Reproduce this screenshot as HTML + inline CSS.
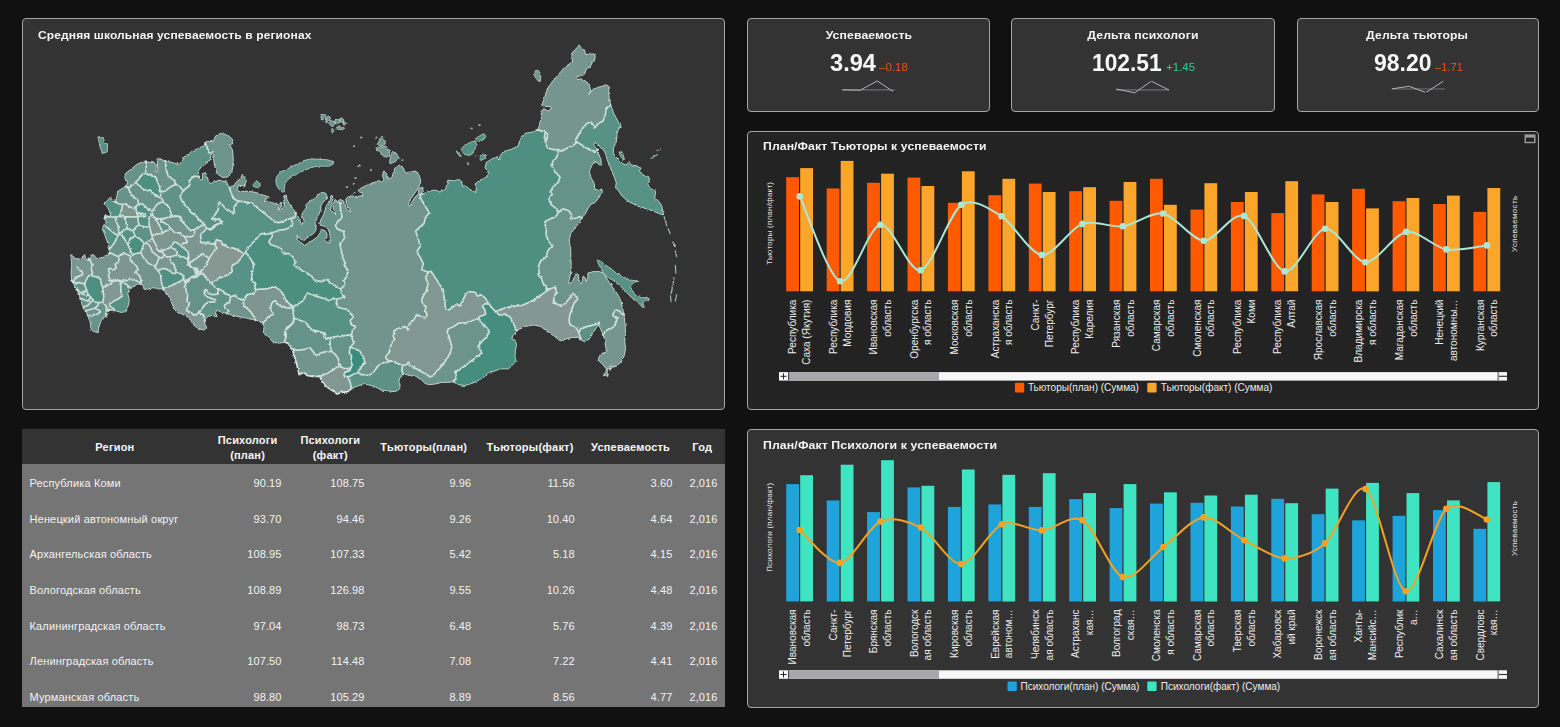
<!DOCTYPE html>
<html><head><meta charset="utf-8"><title>Dashboard</title>
<style>
html,body{margin:0;padding:0;font-family:"Liberation Sans", sans-serif;}
body{width:1560px;height:727px;background:#111111;overflow:hidden;position:relative;font-family:"Liberation Sans", sans-serif;color:#f2f2f2;}
.panel{position:absolute;box-sizing:border-box;border:1px solid #a6a6a6;border-radius:4px;background:#333333;}
.sx{display:inline-block;transform-origin:0 50%;}.sx.c{transform-origin:50% 50%;}
.ttl{position:absolute;font-weight:bold;font-size:11.3px;line-height:14px;white-space:nowrap;color:#f4f4f4;letter-spacing:0.1px;}
.kt{position:absolute;font-weight:bold;font-size:11px;line-height:14px;white-space:nowrap;color:#f4f4f4;text-align:center;letter-spacing:0.1px;}
.kv{position:absolute;font-weight:bold;font-size:23px;line-height:24px;white-space:nowrap;color:#f7f7f7;}
  .kd{position:absolute;font-size:10.8px;line-height:12px;white-space:nowrap;}
svg{position:absolute;left:0;top:0;}
svg text{font-family:"Liberation Sans", sans-serif;}
.xl{font-size:10.8px;fill:#ececec;}
.yt{font-size:8px;fill:#e6e6e6;}
.lg{font-size:10.8px;fill:#ececec;}
#tbl{position:absolute;left:22px;top:429px;width:702.5px;height:278.3px;background:#757575;}
#thd{position:absolute;left:22px;top:429px;width:702.5px;height:35.3px;background:#333333;}
.td{position:absolute;font-size:11px;line-height:16px;white-space:nowrap;color:#f3f3f3;letter-spacing:0.16px;}
.td.r{width:100px;text-align:right;letter-spacing:0.1px;}
.th{position:absolute;width:120px;text-align:center;font-weight:bold;font-size:11px;line-height:16px;white-space:nowrap;color:#f6f6f6;letter-spacing:0.2px;}
</style></head><body>
<div class="panel" style="left:22px;top:18px;width:703px;height:392px;"></div>
<div class="panel" style="left:747px;top:18px;width:242.5px;height:94px;"></div>
<div class="panel" style="left:1011px;top:18px;width:264px;height:94px;"></div>
<div class="panel" style="left:1296.7px;top:18px;width:242.5px;height:94px;"></div>
<div class="panel" style="left:747px;top:130.7px;width:792.2px;height:279.5px;background:#232323;"></div>
<div class="panel" style="left:747px;top:428.8px;width:792.2px;height:279.5px;"></div>
<div id="tbl"></div><div id="thd"></div>

<div class="ttl" style="left:37.5px;top:28.3px;"><span class="sx" id="t_map" style="transform:scaleX(1.0649)">Средняя школьная успеваемость в регионах</span></div>
<div class="ttl" style="left:763px;top:139.3px;"><span class="sx" id="t_c1" style="transform:scaleX(1.0799)">План/Факт Тьюторы к успеваемости</span></div>
<div class="ttl" style="left:763px;top:438px;"><span class="sx" id="t_c2" style="transform:scaleX(1.0888)">План/Факт Психологи к успеваемости</span></div>

<div class="kt" style="left:768.5px;width:200px;top:28.1px;"><span class="sx c" id="k1t" style="transform:scaleX(1.1121)">Успеваемость</span></div>
<div class="kt" style="left:1043.1px;width:200px;top:28.1px;"><span class="sx c" id="k2t" style="transform:scaleX(1.1166)">Дельта психологи</span></div>
<div class="kt" style="left:1317.4px;width:200px;top:28.1px;"><span class="sx c" id="k3t" style="transform:scaleX(1.1064)">Дельта тьюторы</span></div>
<div class="kv" style="left:829.8px;top:50.7px;"><span class="sx" id="k1v" style="transform:scaleX(1.0276)">3.94</span></div>
<div class="kv" style="left:1091.8px;top:50.7px;"><span class="sx" id="k2v" style="transform:scaleX(0.9892)">102.51</span></div>
<div class="kv" style="left:1373.8px;top:50.7px;"><span class="sx" id="k3v" style="transform:scaleX(0.9989)">98.20</span></div>
<div class="kd" style="left:878.5px;top:60.6px;color:#e9531c;"><span class="sx" id="k1d" style="transform:scaleX(1.0654)">–0.18</span></div>
<div class="kd" style="left:1165.7px;top:60.6px;color:#2fcf93;"><span class="sx" id="k2d" style="transform:scaleX(1.0685)">+1.45</span></div>
<div class="kd" style="left:1434.7px;top:60.6px;color:#e9531c;"><span class="sx" id="k3d" style="transform:scaleX(1.0358)">–1.71</span></div>

<svg width="1560" height="727" viewBox="0 0 1560 727">
<!-- MAP -->
<defs><filter id="rough" x="60" y="40" width="640" height="370" filterUnits="userSpaceOnUse"><feTurbulence type="fractalNoise" baseFrequency="0.28" numOctaves="2" seed="7" result="n"/><feDisplacementMap in="SourceGraphic" in2="n" scale="2.6" xChannelSelector="R" yChannelSelector="G"/></filter></defs>
<g id="map" stroke-linejoin="round" stroke-linecap="round" filter="url(#rough)">
<path d="M109.3 247.4 L106.2 239.0 L102.4 228.2 L106.2 222.0 L104.7 218.2 L110.8 215.9 L109.3 209.7 L103.9 204.3 L110.1 197.4 L113.1 201.2 L116.2 199.7 L117.8 191.2 L125.5 186.6 L127.8 182.0 L124.7 178.1 L125.5 173.5 L132.4 168.1 L137.0 164.3 L144.0 161.2 L150.9 162.7 L154.0 161.9 L156.3 166.6 L155.8 172.0 L158.0 171.2 L157.0 158.1 L166.3 161.2 L179.4 164.3 L182.5 160.4 L184.0 156.6 L187.9 155.8 L190.9 151.9 L197.1 148.9 L204.0 145.8 L205.2 142.8 L207.1 141.3 L213.3 141.9 L215.2 136.3 L220.8 133.2 L227.7 135.0 L232.7 139.4 L232.5 143.8 L229.6 145.0 L232.7 150.1 L233.3 160.1 L232.1 171.3 L227.7 177.0 L222.7 177.6 L217.1 173.8 L214.6 166.3 L213.3 157.6 L212.4 151.3 L210.8 153.8 L210.2 160.1 L205.8 163.8 L200.2 168.2 L198.3 171.3 L199.4 179.7 L202.5 179.7 L202.5 173.5 L205.6 172.7 L207.1 176.6 L208.7 182.7 L211.7 183.5 L214.8 180.4 L221.7 180.4 L227.1 182.7 L228.7 186.6 L234.1 185.8 L235.6 182.7 L240.2 178.9 L242.5 174.3 L246.4 180.4 L244.9 185.8 L238.7 185.4 L237.2 189.7 L240.2 192.0 L244.2 191.0 L250.2 191.5 L256.2 192.5 L261.2 194.5 L266.3 196.0 L269.3 197.5 L265.3 199.5 L264.2 201.5 L268.3 201.0 L272.3 202.5 L276.3 204.1 L279.8 204.6 L280.3 201.5 L281.8 202.5 L281.3 207.1 L278.3 208.6 L277.8 210.1 L282.3 208.6 L284.3 206.1 L283.8 200.0 L284.3 195.5 L286.3 195.0 L286.8 199.0 L287.8 201.5 L290.3 205.1 L293.4 209.1 L295.9 213.1 L298.4 217.1 L300.4 221.1 L301.4 224.6 L304.4 222.1 L303.4 219.1 L301.4 216.1 L303.4 211.6 L306.4 207.6 L305.4 205.1 L308.9 202.0 L312.4 200.0 L315.4 197.5 L318.5 194.5 L321.5 192.5 L325.5 193.0 L327.0 196.0 L326.0 199.0 L323.0 202.5 L320.8 206.1 L321.0 209.6 L319.0 214.1 L316.9 218.1 L315.4 222.1 L315.2 225.6 L316.4 228.6 L315.2 231.7 L312.4 234.4 L309.4 236.4 L306.4 238.4 L303.9 240.7 L301.9 240.2 L298.9 237.7 L296.6 235.2 L298.4 240.2 L301.4 243.2 L304.6 245.4 L307.4 243.7 L310.4 241.7 L314.4 239.2 L317.7 236.7 L320.3 232.2 L320.5 229.7 L323.7 230.0 L326.0 231.4 L327.1 234.7 L326.7 238.0 L325.0 239.2 L327.3 242.4 L329.7 243.0 L330.1 238.2 L329.7 233.0 L327.7 228.6 L324.5 226.3 L320.5 225.3 L319.7 223.1 L321.2 219.1 L323.2 215.1 L325.2 210.1 L325.7 206.6 L328.0 203.1 L330.5 200.0 L331.0 196.0 L331.7 195.0 L333.0 197.5 L332.5 201.0 L331.5 205.1 L330.5 210.1 L332.5 211.6 L335.0 213.1 L336.0 215.1 L335.5 211.6 L333.5 209.6 L333.0 206.1 L334.0 202.0 L335.0 199.5 L338.0 202.0 L340.0 203.6 L338.5 200.5 L340.5 199.5 L343.6 201.0 L345.1 204.1 L346.1 208.1 L348.6 211.1 L350.6 211.6 L349.6 209.1 L347.6 206.6 L346.6 203.1 L345.6 199.5 L347.6 197.0 L351.6 196.0 L356.0 196.5 L359.2 196.1 L362.8 195.6 L362.3 193.0 L359.2 192.0 L358.2 190.4 L361.3 187.9 L365.4 185.8 L369.5 184.2 L374.7 182.2 L378.8 180.6 L381.9 182.2 L383.9 180.1 L382.4 175.5 L383.9 170.8 L386.5 173.4 L387.0 177.5 L390.1 178.6 L392.2 176.5 L393.7 171.3 L396.3 166.2 L399.4 165.2 L402.5 166.7 L404.6 171.3 L406.6 172.9 L415.6 170.9 L419.4 175.5 L420.9 181.6 L418.6 187.8 L414.8 193.2 L410.9 198.6 L407.9 205.5 L409.4 206.3 L414.0 198.6 L417.9 194.0 L419.4 188.6 L422.5 187.0 L423.3 190.9 L420.2 194.7 L424.8 194.0 L428.7 190.9 L435.6 190.1 L439.4 191.7 L445.6 189.3 L447.1 183.2 L447.9 180.1 L454.1 180.9 L458.7 179.3 L461.8 181.6 L462.5 186.3 L465.6 185.5 L469.5 189.3 L475.6 192.4 L476.4 187.8 L474.9 184.0 L480.3 180.1 L486.4 177.0 L488.7 172.4 L484.9 167.8 L486.4 162.4 L492.6 158.5 L497.2 157.0 L498.7 160.1 L500.3 155.5 L503.4 151.6 L511.1 149.3 L518.0 146.2 L520.0 139.3 L520.8 137.1 L525.4 133.2 L530.8 132.4 L537.8 130.1 L539.3 125.5 L541.6 116.3 L540.8 111.6 L543.9 108.6 L547.8 110.9 L551.2 108.9 L550.1 106.3 L544.7 106.7 L541.6 105.2 L544.7 97.8 L547.0 89.3 L552.4 81.6 L560.1 72.4 L566.3 66.2 L570.9 62.7 L572.4 61.6 L571.7 53.1 L575.5 49.3 L579.4 45.1 L581.7 48.5 L584.7 50.0 L585.5 54.6 L590.1 53.9 L594.8 53.9 L595.2 58.5 L592.5 62.3 L590.1 67.0 L586.3 69.3 L584.7 73.9 L581.7 76.2 L577.0 76.2 L577.0 79.3 L581.7 79.0 L586.3 81.6 L589.4 85.5 L590.9 90.8 L588.6 94.7 L590.9 91.6 L594.0 88.5 L601.7 86.2 L606.3 84.7 L609.4 87.0 L608.6 91.6 L609.4 99.3 L610.9 105.5 L614.0 114.0 L617.9 120.9 L621.7 127.0 L618.6 128.6 L617.1 134.7 L616.3 142.0 L613.7 147.3 L613.2 152.7 L615.6 156.6 L618.6 159.6 L622.5 163.5 L626.3 165.0 L628.7 162.0 L631.7 165.0 L636.4 165.8 L641.0 168.1 L639.4 171.2 L643.3 175.1 L648.7 176.6 L649.4 181.2 L647.9 185.1 L651.0 188.9 L655.6 191.2 L654.8 198.2 L658.7 201.2 L661.8 205.9 L663.6 215.1 L661.0 214.3 L649.4 209.7 L637.1 205.9 L627.9 201.2 L621.7 195.8 L617.9 189.7 L615.6 188.1 L616.3 182.8 L614.0 176.6 L610.2 167.3 L607.1 159.6 L605.5 153.5 L603.2 149.6 L600.2 147.3 L597.1 143.5 L594.8 142.7 L594.0 145.8 L597.8 149.6 L598.6 153.5 L600.9 159.6 L601.7 165.0 L599.4 165.0 L597.1 162.7 L594.0 162.0 L591.7 165.8 L589.4 171.2 L590.9 177.4 L594.0 182.8 L594.8 188.9 L598.6 190.5 L601.7 188.9 L602.5 192.0 L598.6 198.2 L594.8 202.8 L590.9 204.3 L587.8 208.9 L585.5 213.6 L581.7 218.2 L578.6 223.6 L574.7 228.2 L570.9 233.6 L569.3 239.7 L570.1 247.0 L570.6 246.9 L570.9 255.4 L571.2 264.6 L570.9 272.3 L569.7 278.5 L568.6 283.1 L571.7 282.4 L574.0 277.7 L576.3 273.1 L578.6 274.7 L578.9 280.8 L580.9 283.9 L582.4 280.8 L582.9 276.2 L584.7 277.0 L586.3 281.6 L587.8 277.0 L587.8 273.1 L593.2 271.6 L599.4 271.6 L603.2 273.1 L606.3 277.7 L610.2 283.9 L614.0 289.3 L617.9 294.7 L620.9 300.8 L622.5 307.8 L624.0 315.0 L625.1 324.3 L625.6 333.5 L624.8 341.2 L625.6 348.9 L624.0 356.6 L620.9 362.0 L617.1 365.9 L612.5 367.4 L610.9 365.1 L610.2 370.5 L608.6 366.6 L607.1 372.0 L607.9 376.6 L605.5 375.1 L603.2 375.9 L605.5 372.8 L606.3 368.9 L603.2 365.1 L600.2 362.0 L597.8 360.5 L599.4 355.8 L601.7 353.5 L606.3 352.0 L605.5 345.8 L604.8 339.7 L602.5 333.5 L600.2 328.1 L598.6 325.0 L597.1 326.6 L593.2 332.7 L589.4 338.9 L584.7 342.0 L580.9 339.7 L577.8 337.4 L572.4 337.4 L566.3 338.9 L560.1 340.9 L553.9 335.8 L547.8 332.0 L540.8 326.6 L533.9 325.0 L524.7 326.6 L517.0 330.4 L513.1 335.1 L511.6 340.4 L514.7 339.7 L516.7 344.3 L515.4 350.5 L515.1 356.6 L516.2 361.2 L512.3 365.1 L508.5 368.9 L500.0 368.9 L493.9 371.3 L489.2 372.0 L484.6 376.6 L480.0 379.7 L472.6 383.2 L464.9 385.5 L458.7 384.7 L454.1 381.7 L447.9 382.4 L441.7 382.4 L435.6 384.0 L429.4 384.7 L424.8 383.2 L420.9 379.3 L415.6 376.3 L409.4 375.5 L403.2 374.0 L400.9 376.3 L398.6 380.9 L400.2 386.3 L398.6 390.1 L394.8 391.7 L387.8 390.9 L381.7 390.1 L378.6 388.6 L374.0 386.3 L367.8 384.7 L363.2 384.0 L357.0 386.3 L351.6 388.6 L347.8 391.7 L341.6 392.4 L337.0 394.0 L333.1 390.9 L329.3 388.6 L326.2 386.3 L322.4 382.4 L320.8 378.6 L317.0 376.3 L312.3 376.3 L307.0 375.5 L303.9 372.4 L299.3 374.7 L297.7 368.6 L296.2 362.4 L293.9 354.7 L290.8 347.0 L287.7 343.1 L284.6 342.1 L280.0 343.1 L277.2 343.2 L272.6 341.7 L268.0 337.0 L263.3 333.2 L264.1 326.3 L261.8 322.4 L255.6 320.1 L247.9 318.6 L240.2 317.0 L232.5 315.5 L226.4 313.2 L221.7 312.4 L217.1 310.1 L215.6 312.4 L217.1 317.0 L212.5 315.5 L207.9 316.3 L204.8 320.1 L204.8 324.0 L207.1 327.8 L204.0 330.1 L198.6 328.6 L194.0 325.5 L190.9 320.9 L187.9 317.0 L181.7 313.9 L177.1 312.4 L174.0 308.5 L171.7 303.2 L170.1 297.8 L166.3 293.1 L163.2 289.3 L158.6 288.5 L152.4 287.8 L147.8 289.3 L144.0 289.3 L142.4 284.7 L137.8 283.9 L133.9 286.2 L129.3 288.5 L127.8 293.9 L129.3 299.3 L128.5 304.7 L126.2 311.6 L121.6 312.4 L117.8 311.6 L113.9 310.1 L107.8 310.9 L105.4 313.2 L107.0 317.0 L103.1 317.0 L100.8 321.6 L98.5 327.8 L98.2 332.4 L93.1 331.7 L90.8 327.8 L90.0 321.6 L87.7 315.5 L85.4 310.1 L82.3 305.5 L80.8 300.1 L78.5 293.1 L75.4 287.0 L71.6 280.8 L71.1 273.1 L71.6 264.6 L70.8 254.6 L75.4 258.5 L80.8 259.3 L84.6 254.6 L86.2 260.0 L90.8 259.3 L90.0 255.4 L93.1 254.6 L97.0 258.5 L104.7 256.9 L108.5 254.6 L109.3 247.7Z" fill="#6d9087" stroke="none"/>
<path d="M98.2 136.9 L103.8 137.8 L104.4 143.2 L107.6 143.8 L107.3 151.9 L102.6 153.6 L100.1 147.5Z" fill="#599185" stroke="#dcebe6" stroke-width="0.8" stroke-opacity="0.8"/>
<path d="M282.3 192.0 L279.2 189.4 L276.7 185.8 L275.6 180.6 L277.2 175.5 L279.8 172.4 L284.9 169.8 L290.1 167.7 L293.2 165.7 L298.3 163.6 L303.5 161.5 L303.1 160.8 L310.8 158.8 L320.1 159.3 L327.8 159.8 L333.1 161.6 L333.6 163.9 L329.3 166.2 L321.0 166.2 L314.8 166.7 L309.7 168.3 L304.5 170.3 L299.4 172.9 L294.2 175.5 L290.1 178.1 L286.5 181.1 L284.9 184.8 L284.4 188.9 L283.9 191.5Z" fill="#619288" stroke="#dcebe6" stroke-width="0.8" stroke-opacity="0.8"/>
<path d="M253.3 183.5 L256.4 181.2 L259.9 182.7 L260.3 185.8 L257.2 187.7 L253.8 186.6Z" fill="#619288" stroke="#dcebe6" stroke-width="0.8" stroke-opacity="0.8"/>
<path d="M325.6 117.4 L324.2 119.0 L321.7 118.9 L320.8 116.9 L320.7 114.6 L323.2 114.6 L325.7 115.1Z" fill="#619288" stroke="#dcebe6" stroke-width="0.8" stroke-opacity="0.8"/>
<path d="M330.3 118.7 L329.5 120.6 L327.8 120.3 L326.1 119.4 L327.0 117.5 L328.1 115.9 L329.7 116.9Z" fill="#619288" stroke="#dcebe6" stroke-width="0.8" stroke-opacity="0.8"/>
<path d="M334.3 124.6 L332.8 126.7 L330.4 125.2 L328.8 123.1 L330.2 121.1 L332.7 120.9 L335.2 122.3Z" fill="#619288" stroke="#dcebe6" stroke-width="0.8" stroke-opacity="0.8"/>
<path d="M341.2 120.8 L339.4 122.7 L337.0 124.1 L334.5 123.2 L334.4 121.2 L335.9 119.2 L338.7 119.8Z" fill="#619288" stroke="#dcebe6" stroke-width="0.8" stroke-opacity="0.8"/>
<path d="M343.9 120.3 L343.3 122.3 L341.5 122.2 L339.8 121.5 L340.4 119.5 L341.4 117.8 L343.1 118.6Z" fill="#71948c" stroke="#dcebe6" stroke-width="0.8" stroke-opacity="0.8"/>
<path d="M344.4 128.5 L342.4 129.8 L339.1 129.7 L335.9 128.6 L337.2 127.0 L339.3 125.6 L342.3 126.9Z" fill="#71948c" stroke="#dcebe6" stroke-width="0.8" stroke-opacity="0.8"/>
<path d="M333.9 130.5 L333.2 131.9 L332.1 132.2 L331.0 131.4 L331.3 129.8 L332.0 128.4 L333.1 129.3Z" fill="#619288" stroke="#dcebe6" stroke-width="0.8" stroke-opacity="0.8"/>
<path d="M345.8 123.4 L345.0 124.5 L343.9 125.4 L343.2 124.0 L342.9 122.6 L343.9 121.8 L345.0 122.2Z" fill="#71948c" stroke="#dcebe6" stroke-width="0.8" stroke-opacity="0.8"/>
<path d="M327.2 121.9 L327.1 123.0 L326.0 122.9 L325.1 122.4 L325.1 121.3 L326.0 120.8 L327.1 120.8Z" fill="#619288" stroke="#dcebe6" stroke-width="0.8" stroke-opacity="0.8"/>
<path d="M382.4 136.2 L385.5 141.6 L384.7 144.7 L380.9 146.2 L377.8 144.7 L379.4 140.1Z" fill="#71948c" stroke="#dcebe6" stroke-width="0.8" stroke-opacity="0.8"/>
<path d="M380.9 147.0 L386.3 146.2 L389.4 150.1 L389.7 155.5 L386.3 157.3 L381.7 155.5 L380.1 151.6 L376.3 150.8 L376.7 147.8Z" fill="#71948c" stroke="#dcebe6" stroke-width="0.8" stroke-opacity="0.8"/>
<path d="M392.5 151.6 L396.3 153.1 L399.4 158.5 L397.1 160.8 L390.1 163.9 L389.4 161.6 L390.9 155.5Z" fill="#71948c" stroke="#dcebe6" stroke-width="0.8" stroke-opacity="0.8"/>
<path d="M461.8 147.8 L467.2 143.9 L470.2 142.4 L474.9 140.8 L476.9 144.7 L474.9 149.3 L472.6 152.4 L470.2 155.5 L464.9 154.7 L462.5 151.6Z" fill="#519082" stroke="#dcebe6" stroke-width="0.8" stroke-opacity="0.8"/>
<path d="M475.6 138.5 L480.3 135.4 L484.1 133.6 L486.1 136.2 L484.1 139.3 L479.5 141.3Z" fill="#519082" stroke="#dcebe6" stroke-width="0.8" stroke-opacity="0.8"/>
<path d="M479.5 156.2 L483.3 153.9 L486.4 155.1 L484.9 158.5 L481.0 160.4Z" fill="#519082" stroke="#dcebe6" stroke-width="0.8" stroke-opacity="0.8"/>
<path d="M456.4 150.8 L461.0 155.5 L460.2 156.7 L457.2 153.1Z" fill="#519082" stroke="#dcebe6" stroke-width="0.8" stroke-opacity="0.8"/>
<path d="M535.5 70.8 L537.8 70.1 L540.1 72.4 L540.8 77.0 L540.4 81.6 L537.8 80.8 L534.7 76.2Z" fill="#75958e" stroke="#dcebe6" stroke-width="0.8" stroke-opacity="0.8"/>
<path d="M619.4 151.9 L622.5 152.7 L624.5 159.3 L622.5 159.6 L620.2 155.8Z" fill="#599185" stroke="#dcebe6" stroke-width="0.8" stroke-opacity="0.8"/>
<path d="M597.8 260.0 L601.7 261.6 L604.8 264.6 L610.9 268.5 L616.3 273.1 L623.3 277.0 L631.0 280.1 L638.7 281.3 L634.0 282.4 L630.2 286.2 L632.5 290.8 L635.6 295.5 L641.7 297.8 L647.1 297.3 L649.4 299.3 L644.8 300.8 L642.5 303.2 L644.8 307.8 L642.1 307.2 L638.4 302.8 L634.4 299.2 L629.4 295.5 L624.5 290.2 L619.1 285.0 L613.1 280.4 L607.1 277.0 L602.5 272.0 L600.2 267.0 L598.0 263.1Z" fill="#599185" stroke="#dcebe6" stroke-width="0.8" stroke-opacity="0.8"/>
<path d="M420.4 194.7 L420.2 194.7 L420.3 194.6 L419.9 194.3 L421.7 200.4 L425.6 206.6 L429.4 212.7 L425.6 217.3 L424.0 223.5 L419.4 227.4 L415.6 231.2 L417.9 237.4 L420.2 246.6 L417.1 251.2 L420.2 257.4 L423.3 263.6 L421.7 269.7 L427.9 272.0 L431.0 271.3 L434.0 275.9 L437.1 280.5 L441.0 286.7 L442.4 290.3 L443.3 290.0 L443.9 296.2 L444.1 297.0 L444.0 297.0 L444.1 297.7 L445.6 308.5 L448.7 310.0 L454.1 306.2 L457.2 303.9 L459.5 306.2 L462.5 300.8 L465.6 294.6 L468.7 291.5 L475.6 292.3 L477.2 296.2 L481.8 294.6 L485.6 298.5 L488.0 303.1 L488.7 303.6 L492.6 308.5 L495.7 311.6 L503.1 308.5 L513.1 306.2 L521.6 305.5 L530.8 301.6 L538.5 297.0 L544.7 292.4 L550.9 288.5 L546.2 290.1 L546.2 286.2 L543.2 283.9 L541.6 278.5 L537.8 274.7 L539.3 273.1 L538.5 266.2 L540.8 260.8 L546.2 256.9 L547.8 250.8 L551.6 246.3 L551.4 246.1 L551.7 245.9 L548.5 241.3 L546.2 235.1 L546.2 229.0 L544.7 222.0 L550.1 219.0 L556.3 215.9 L558.6 212.0 L555.5 208.2 L550.9 204.3 L548.5 198.2 L552.4 194.3 L550.1 192.0 L553.2 186.6 L557.8 182.8 L560.1 177.4 L555.5 172.0 L552.4 167.3 L552.4 162.0 L557.0 156.6 L558.6 150.4 L558.8 150.0 L557.8 149.6 L553.2 149.6 L547.8 148.1 L545.5 143.5 L545.4 142.1 L544.7 135.0 L546.3 133.3 L544.7 131.7 L537.8 130.1 L530.8 132.4 L525.4 133.2 L520.8 137.1 L520.0 139.3 L518.0 146.2 L511.1 149.3 L503.4 151.6 L500.3 155.5 L498.7 160.1 L497.2 157.0 L492.6 158.5 L486.4 162.4 L484.9 167.8 L488.7 172.4 L486.4 177.0 L480.3 180.1 L474.9 184.0 L476.4 187.8 L475.6 192.4 L469.5 189.3 L465.6 185.5 L462.5 186.3 L461.8 181.6 L458.7 179.3 L454.1 180.9 L447.9 180.1 L447.1 183.2 L445.6 189.3 L439.4 191.7 L435.6 190.1 L428.7 190.9 L424.8 194.0Z" fill="#4f8f82" fill-rule="evenodd" stroke="none"/><!-- 440,230 a=16870 -->
<path d="M339.9 203.4 L340.0 203.6 L339.9 203.5 L339.7 203.7 L340.5 207.1 L340.5 210.6 L341.5 214.1 L342.0 217.1 L339.5 220.1 L336.5 223.1 L335.5 225.6 L337.0 228.6 L340.5 230.2 L343.6 231.2 L344.1 235.2 L344.6 238.2 L342.0 241.2 L340.0 243.2 L340.5 247.2 L341.5 251.2 L342.0 255.3 L343.6 259.3 L345.1 263.0 L343.9 265.1 L347.8 269.7 L347.0 275.9 L343.9 280.5 L344.7 285.1 L340.2 289.6 L340.8 290.5 L340.5 290.6 L341.6 292.8 L343.7 296.7 L341.6 297.7 L337.0 299.2 L336.2 303.9 L337.8 306.9 L341.6 308.5 L347.0 309.3 L350.1 313.1 L353.9 316.2 L350.1 320.8 L351.6 324.7 L355.5 327.0 L352.4 330.8 L351.6 334.7 L352.4 339.3 L353.9 343.1 L350.1 347.0 L355.5 349.3 L360.1 351.6 L364.0 357.8 L364.7 362.4 L361.6 366.3 L357.8 372.4 L361.6 374.7 L369.3 375.5 L374.0 371.6 L378.6 365.5 L380.9 363.2 L387.8 362.1 L390.9 360.9 L387.8 360.1 L385.5 357.8 L386.3 355.5 L389.4 352.4 L390.1 348.5 L391.7 343.1 L394.8 339.3 L393.2 336.2 L394.0 331.6 L397.1 328.5 L401.7 327.7 L404.8 326.2 L408.6 330.4 L407.9 327.0 L410.2 323.1 L414.0 319.3 L416.3 314.6 L420.2 316.2 L425.6 318.5 L427.1 313.9 L424.8 310.8 L426.3 306.9 L422.5 303.9 L421.7 299.2 L422.5 297.0 L423.3 294.6 L425.7 292.2 L426.3 291.3 L426.6 289.7 L427.9 283.6 L425.6 277.4 L427.9 272.0 L421.7 269.7 L423.3 263.6 L420.2 257.4 L417.1 251.2 L420.2 246.6 L417.9 237.4 L415.6 231.2 L419.4 227.4 L424.0 223.5 L425.6 217.3 L429.4 212.7 L425.6 206.6 L421.7 200.4 L419.9 194.3 L420.3 194.6 L423.3 190.9 L422.5 187.0 L419.4 188.6 L417.9 194.0 L414.0 198.6 L409.4 206.3 L407.9 205.5 L410.9 198.6 L414.8 193.2 L418.6 187.8 L420.9 181.6 L419.4 175.5 L415.6 170.9 L406.6 172.9 L404.6 171.3 L402.5 166.7 L399.4 165.2 L396.3 166.2 L393.7 171.3 L392.2 176.5 L390.1 178.6 L387.0 177.5 L386.5 173.4 L383.9 170.8 L382.4 175.5 L383.9 180.1 L381.9 182.2 L378.8 180.6 L374.7 182.2 L369.5 184.2 L365.4 185.8 L361.3 187.9 L358.2 190.4 L359.2 192.0 L362.3 193.0 L362.8 195.6 L359.2 196.1 L356.0 196.5 L351.6 196.0 L347.6 197.0 L345.6 199.5 L346.6 203.1 L347.6 206.6 L349.6 209.1 L350.6 211.6 L348.6 211.1 L346.1 208.1 L345.1 204.1 L343.6 201.0 L340.5 199.5 L338.5 200.5Z M343.9 297.0 L343.7 296.7 L344.7 296.2Z" fill="#71948c" fill-rule="evenodd" stroke="none"/><!-- 385,260 a=12905 -->
<path d="M477.9 318.5 L480.3 316.2 L485.6 314.6 L484.9 310.0 L482.6 306.2 L484.9 303.9 L488.7 303.6 L488.0 303.1 L485.6 298.5 L481.8 294.6 L477.2 296.2 L475.6 292.3 L468.7 291.5 L465.6 294.6 L462.5 300.8 L459.5 306.2 L457.2 303.9 L454.1 306.2 L448.7 310.0 L445.6 308.5 L444.1 297.7 L444.0 297.0 L443.9 296.2 L443.3 292.8 L442.4 290.3 L441.0 286.7 L437.1 280.5 L434.0 275.9 L431.0 271.3 L427.9 272.0 L425.6 277.4 L427.9 283.6 L426.6 289.7 L427.9 290.0 L425.7 292.2 L422.5 297.0 L422.5 297.0 L421.7 299.2 L422.5 303.9 L426.3 306.9 L424.8 310.8 L427.1 313.9 L425.6 318.5 L420.2 316.2 L416.3 314.6 L414.0 319.3 L410.2 323.1 L407.9 327.0 L408.6 330.4 L404.8 326.2 L401.7 327.7 L397.1 328.5 L394.0 331.6 L393.2 336.2 L394.8 339.3 L391.7 343.1 L390.1 348.5 L389.4 352.4 L386.3 355.5 L385.5 357.8 L387.8 360.1 L390.9 360.9 L397.1 363.2 L402.5 365.5 L406.3 364.7 L408.6 363.2 L410.9 365.5 L415.6 368.6 L420.2 370.9 L425.6 374.0 L430.2 377.0 L433.3 375.5 L435.6 372.4 L439.4 368.6 L443.3 363.9 L447.1 358.5 L450.2 353.2 L451.8 347.0 L450.2 340.8 L448.7 335.4 L447.1 331.6 L449.4 328.5 L454.1 326.2 L458.7 323.1 L464.9 323.1 L471.0 321.6 L475.6 319.3Z" fill="#819792" fill-rule="evenodd" stroke="none"/><!-- 420,330 a=4324 -->
<path d="M403.2 374.0 L409.4 375.5 L415.6 376.3 L420.9 379.3 L424.8 383.2 L429.4 384.7 L435.6 384.0 L441.7 382.4 L447.9 382.4 L454.1 381.7 L456.4 376.3 L454.8 371.6 L458.7 370.1 L463.3 367.0 L469.5 362.4 L475.6 357.8 L481.8 353.2 L480.3 349.3 L477.9 347.0 L481.0 342.4 L485.6 337.8 L489.5 332.4 L486.4 327.0 L481.8 323.1 L477.9 318.5 L475.6 319.3 L471.0 321.6 L464.9 323.1 L458.7 323.1 L454.1 326.2 L449.4 328.5 L447.1 331.6 L448.7 335.4 L450.2 340.8 L451.8 347.0 L450.2 353.2 L447.1 358.5 L443.3 363.9 L439.4 368.6 L435.6 372.4 L433.3 375.5 L430.2 377.0 L425.6 374.0 L420.2 370.9 L415.6 368.6 L410.9 365.5 L408.6 363.2 L406.3 364.7 L402.5 365.5 L401.7 370.1Z" fill="#6d948b" fill-rule="evenodd" stroke="none"/><!-- 470,345 a=2017 -->
<path d="M454.1 381.7 L458.7 384.7 L464.9 385.5 L472.6 383.2 L480.0 379.7 L484.6 376.6 L489.2 372.0 L493.9 371.3 L500.0 368.9 L508.5 368.9 L512.3 365.1 L516.2 361.2 L515.1 356.6 L515.4 350.5 L516.7 344.3 L514.7 339.7 L511.6 340.4 L513.1 335.1 L517.0 330.4 L516.2 329.3 L513.1 323.2 L510.0 317.0 L504.6 313.9 L500.0 315.5 L495.7 311.6 L492.6 308.5 L488.7 303.6 L484.9 303.9 L482.6 306.2 L484.9 310.0 L485.6 314.6 L480.3 316.2 L477.9 318.5 L481.8 323.1 L486.4 327.0 L489.5 332.4 L485.6 337.8 L481.0 342.4 L477.9 347.0 L480.3 349.3 L481.8 353.2 L475.6 357.8 L469.5 362.4 L463.3 367.0 L458.7 370.1 L454.8 371.6 L456.4 376.3Z" fill="#458e7f" fill-rule="evenodd" stroke="none"/><!-- 500,355 a=2404 -->
<path d="M517.0 330.4 L524.7 326.6 L533.9 325.0 L540.8 326.6 L547.8 332.0 L553.9 335.8 L560.1 340.9 L566.3 338.9 L572.4 337.4 L577.8 337.4 L580.4 339.3 L580.9 338.6 L578.6 332.4 L575.5 327.0 L570.1 324.7 L569.0 320.1 L570.1 313.9 L572.4 307.8 L574.0 303.2 L577.8 299.3 L576.3 295.5 L572.4 293.9 L569.3 298.5 L565.5 303.2 L560.9 306.2 L557.0 303.9 L553.2 303.2 L553.9 298.5 L556.3 292.4 L555.5 287.0 L550.9 288.5 L544.7 292.4 L538.5 297.0 L530.8 301.6 L521.6 305.5 L513.1 306.2 L503.1 308.5 L495.7 311.6 L500.0 315.5 L504.6 313.9 L510.0 317.0 L513.1 323.2 L516.2 329.3Z" fill="#859793" fill-rule="evenodd" stroke="none"/><!-- 540,320 a=2082 -->
<path d="M623.8 314.0 L622.5 307.8 L620.9 300.8 L617.9 294.7 L614.0 289.3 L610.2 283.9 L606.3 277.7 L603.2 273.1 L599.4 271.6 L593.2 271.6 L587.8 273.1 L587.8 277.0 L586.3 281.6 L584.7 277.0 L582.9 276.2 L582.4 280.8 L580.9 283.9 L578.9 280.8 L578.6 274.7 L576.3 273.1 L574.0 277.7 L571.7 282.4 L568.6 283.1 L569.7 278.5 L570.9 272.3 L571.2 264.6 L570.9 255.4 L570.6 246.9 L570.1 247.0 L569.3 239.7 L570.9 233.6 L574.7 228.2 L578.6 223.6 L581.7 218.2 L580.1 216.6 L575.5 218.2 L570.9 219.0 L571.7 215.1 L568.6 210.5 L563.2 208.9 L558.6 212.0 L556.3 215.9 L550.1 219.0 L544.7 222.0 L546.2 229.0 L546.2 235.1 L548.5 241.3 L551.7 245.9 L552.4 245.4 L551.8 246.1 L552.4 247.0 L551.6 246.3 L547.8 250.8 L546.2 256.9 L540.8 260.8 L538.5 266.2 L539.3 273.1 L537.8 274.7 L541.6 278.5 L543.2 283.9 L546.2 286.2 L546.2 290.1 L550.9 288.5 L555.5 287.0 L556.3 292.4 L553.9 298.5 L553.2 303.2 L557.0 303.9 L560.9 306.2 L565.5 303.2 L569.3 298.5 L572.4 293.9 L576.3 295.5 L577.8 299.3 L574.0 303.2 L572.4 307.8 L570.1 313.9 L569.0 320.1 L570.1 324.7 L575.5 327.0 L578.6 332.4 L581.7 328.6 L587.8 326.3 L594.8 324.7 L599.4 322.4 L598.7 325.2 L598.8 325.4 L600.2 328.1 L602.5 333.5 L602.9 334.7 L604.0 334.3 L606.3 330.4 L610.2 328.9 L614.0 326.6 L616.3 322.0 L617.1 317.3 L614.0 316.6 L612.8 314.3 L615.6 310.1 L618.6 310.4 L622.5 314.3Z" fill="#6d948b" fill-rule="evenodd" stroke="none"/><!-- 570,295 a=4556 -->
<path d="M602.9 334.7 L604.8 339.7 L605.5 345.8 L606.3 352.0 L601.7 353.5 L599.4 355.8 L597.8 360.5 L600.2 362.0 L603.2 365.1 L606.3 368.9 L605.5 372.8 L603.2 375.9 L605.5 375.1 L607.9 376.6 L607.1 372.0 L608.6 366.6 L610.2 370.5 L610.9 365.1 L612.5 367.4 L617.1 365.9 L620.9 362.0 L624.0 356.6 L625.6 348.9 L624.8 341.2 L625.6 333.5 L625.1 324.3 L624.0 315.0 L623.8 314.0 L622.5 314.3 L618.6 310.4 L615.6 310.1 L612.8 314.3 L614.0 316.6 L617.1 317.3 L616.3 322.0 L614.0 326.6 L610.2 328.9 L606.3 330.4 L604.0 334.3Z" fill="#75958e" fill-rule="evenodd" stroke="none"/><!-- 615,345 a=966 -->
<path d="M580.4 339.3 L580.9 339.7 L584.7 342.0 L589.4 338.9 L593.2 332.7 L597.1 326.6 L598.6 325.0 L598.7 325.2 L599.4 322.4 L594.8 324.7 L587.8 326.3 L581.7 328.6 L578.6 332.4 L580.9 338.6Z" fill="#5d9186" fill-rule="evenodd" stroke="none"/><!-- 588,332 a=188 -->
<path d="M581.7 218.2 L585.5 213.6 L587.8 208.9 L590.9 204.3 L594.8 202.8 L598.6 198.2 L602.5 192.0 L601.7 188.9 L598.6 190.5 L594.8 188.9 L594.0 182.8 L590.9 177.4 L589.4 171.2 L591.7 165.8 L594.0 162.0 L597.1 162.7 L599.4 165.0 L601.7 165.0 L600.9 159.6 L598.6 153.5 L597.8 149.6 L594.8 151.2 L590.9 150.4 L586.3 148.1 L581.7 145.0 L577.0 141.9 L576.2 142.7 L574.0 145.0 L567.8 148.1 L561.6 151.2 L558.8 150.0 L558.6 150.4 L557.0 156.6 L552.4 162.0 L552.4 167.3 L555.5 172.0 L560.1 177.4 L557.8 182.8 L553.2 186.6 L550.1 192.0 L552.4 194.3 L548.5 198.2 L550.9 204.3 L555.5 208.2 L558.6 212.0 L563.2 208.9 L568.6 210.5 L571.7 215.1 L570.9 219.0 L575.5 218.2 L580.1 216.6Z" fill="#659389" fill-rule="evenodd" stroke="none"/><!-- 570,190 a=2656 -->
<path d="M610.9 105.5 L609.4 99.3 L608.6 91.6 L609.4 87.0 L606.3 84.7 L601.7 86.2 L594.0 88.5 L590.9 91.6 L588.6 94.7 L590.9 90.8 L589.4 85.5 L586.3 81.6 L581.7 79.0 L577.0 79.3 L577.0 76.2 L581.7 76.2 L584.7 73.9 L586.3 69.3 L590.1 67.0 L592.5 62.3 L595.2 58.5 L594.8 53.9 L590.1 53.9 L585.5 54.6 L584.7 50.0 L581.7 48.5 L579.4 45.1 L575.5 49.3 L571.7 53.1 L572.4 61.6 L570.9 62.7 L566.3 66.2 L560.1 72.4 L552.4 81.6 L547.0 89.3 L544.7 97.8 L541.6 105.2 L544.7 106.7 L550.1 106.3 L551.2 108.9 L547.8 110.9 L543.9 108.6 L540.8 111.6 L541.6 116.3 L539.3 125.5 L537.8 130.1 L544.7 131.7 L546.3 133.3 L547.8 134.7 L546.2 142.0 L545.4 142.1 L545.5 143.5 L547.8 148.1 L553.2 149.6 L557.8 149.6 L558.8 150.0 L561.6 151.2 L567.8 148.1 L574.0 145.0 L576.2 142.7 L575.5 142.0 L576.6 139.5 L576.3 138.1 L578.3 135.4 L578.5 135.0 L578.6 134.7 L582.4 128.6 L586.3 124.0 L590.9 121.7 L594.8 127.8 L598.6 123.2 L603.2 120.9 L605.5 114.0 L606.3 107.8Z" fill="#75958e" fill-rule="evenodd" stroke="none"/><!-- 575,95 a=4115 -->
<path d="M597.8 149.6 L594.0 145.8 L594.8 142.7 L597.1 143.5 L600.2 147.3 L603.2 149.6 L605.5 153.5 L607.1 159.6 L610.2 167.3 L614.0 176.6 L616.3 182.8 L615.6 188.1 L617.9 189.7 L621.7 195.8 L627.9 201.2 L637.1 205.9 L649.4 209.7 L661.0 214.3 L663.6 215.1 L661.8 205.9 L658.7 201.2 L654.8 198.2 L655.6 191.2 L651.0 188.9 L647.9 185.1 L649.4 181.2 L648.7 176.6 L643.3 175.1 L639.4 171.2 L641.0 168.1 L636.4 165.8 L631.7 165.0 L628.7 162.0 L626.3 165.0 L622.5 163.5 L618.6 159.6 L615.6 156.6 L613.2 152.7 L613.7 147.3 L616.3 142.0 L617.1 134.7 L618.6 128.6 L621.7 127.0 L617.9 120.9 L614.0 114.0 L610.9 105.5 L606.3 107.8 L605.5 114.0 L603.2 120.9 L598.6 123.2 L594.8 127.8 L590.9 121.7 L586.3 124.0 L582.4 128.6 L578.6 134.7 L578.5 135.0 L578.6 135.0 L578.3 135.4 L576.6 139.5 L577.0 141.9 L581.7 145.0 L586.3 148.1 L590.9 150.4 L594.8 151.2Z" fill="#599185" fill-rule="evenodd" stroke="none"/><!-- 610,150 a=2657 -->
<path d="M351.6 388.6 L357.0 386.3 L363.2 384.0 L367.8 384.7 L374.0 386.3 L378.6 388.6 L381.7 390.1 L387.8 390.9 L394.8 391.7 L398.6 390.1 L400.2 386.3 L398.6 380.9 L400.9 376.3 L403.2 374.0 L401.7 370.1 L402.5 365.5 L397.1 363.2 L390.9 360.9 L387.8 362.1 L380.9 363.2 L378.6 365.5 L374.0 371.6 L369.3 375.5 L361.6 374.7 L357.8 372.4 L353.9 374.0 L347.8 377.0 L350.1 382.4Z" fill="#5d9186" fill-rule="evenodd" stroke="none"/><!-- 376,382 a=985 -->
<path d="M357.8 372.4 L361.6 366.3 L364.7 362.4 L364.0 357.8 L360.1 351.6 L355.5 349.3 L350.1 347.0 L349.3 352.4 L351.6 356.2 L350.9 360.9 L352.4 365.5 L349.3 370.9 L344.7 372.4 L343.9 375.5 L347.8 377.0 L353.9 374.0Z" fill="#3b8c7c" fill-rule="evenodd" stroke="none"/><!-- 356,362 a=298 -->
<path d="M352.4 365.5 L350.9 360.9 L351.6 356.2 L349.3 352.4 L350.1 347.0 L353.9 343.1 L352.4 339.3 L351.6 334.7 L346.2 335.4 L338.5 336.2 L330.1 337.8 L330.1 345.5 L331.6 351.6 L334.7 353.9 L337.8 357.8 L339.3 362.4 L340.8 367.0 L344.7 368.6 L349.3 368.6Z" fill="#659389" fill-rule="evenodd" stroke="none"/><!-- 342,352 a=550 -->
<path d="M347.8 391.7 L351.6 388.6 L350.1 382.4 L347.8 377.0 L343.9 375.5 L344.7 372.4 L349.3 370.9 L349.3 368.6 L344.7 368.6 L340.8 367.0 L337.8 366.3 L333.9 369.3 L327.8 373.2 L321.6 375.5 L320.8 378.6 L322.4 382.4 L326.2 386.3 L329.3 388.6 L333.1 390.9 L337.0 394.0 L341.6 392.4Z" fill="#839792" fill-rule="evenodd" stroke="none"/><!-- 336,382 a=542 -->
<path d="M312.3 376.3 L317.0 376.3 L321.6 375.5 L327.8 373.2 L333.9 369.3 L337.8 366.3 L339.3 362.4 L337.8 357.8 L334.7 353.9 L331.6 351.6 L326.2 351.6 L320.1 353.2 L316.2 355.5 L313.1 351.6 L310.0 347.8 L304.6 349.3 L298.5 350.1 L293.1 350.1 L293.9 354.7 L296.2 362.4 L297.7 368.6 L299.3 374.7 L303.9 372.4 L307.0 375.5Z" fill="#71948c" fill-rule="evenodd" stroke="none"/><!-- 317,364 a=931 -->
<path d="M287.7 343.1 L290.8 347.0 L293.1 350.1 L298.5 350.1 L304.6 349.3 L310.0 347.8 L313.1 351.6 L316.2 355.5 L320.1 353.2 L326.2 351.6 L331.6 351.6 L330.1 345.5 L330.1 337.8 L326.2 339.3 L324.7 336.2 L323.9 333.1 L322.1 332.5 L320.5 332.3 L316.5 331.3 L311.5 330.3 L309.5 327.3 L309.4 327.1 L308.5 326.2 L306.3 323.5 L303.5 321.7 L299.1 319.9 L294.6 318.5 L293.4 322.2 L293.4 322.2 L293.4 322.2 L293.1 323.1 L289.2 327.0 L285.6 330.0 L285.4 330.2 L286.2 334.7 L285.8 336.6 L284.6 342.1Z" fill="#659389" fill-rule="evenodd" stroke="none"/><!-- 308,339 a=997 -->
<path d="M330.1 337.8 L338.5 336.2 L346.2 335.4 L351.6 334.7 L352.4 330.8 L355.5 327.0 L351.6 324.7 L350.1 320.8 L353.9 316.2 L350.1 313.1 L347.0 309.3 L341.6 308.5 L337.8 306.9 L336.2 303.9 L337.0 299.2 L333.1 298.5 L329.3 300.8 L326.2 299.2 L318.5 296.9 L312.3 294.6 L307.0 293.1 L303.1 300.8 L298.5 303.9 L293.9 306.2 L293.2 312.4 L293.4 314.2 L294.6 318.4 L298.5 319.7 L299.1 319.9 L299.3 320.0 L305.4 322.3 L306.3 323.5 L307.5 324.2 L309.4 327.1 L312.3 330.1 L317.0 330.8 L322.1 332.5 L324.6 332.8 L323.9 333.1 L324.7 336.2 L326.2 339.3Z" fill="#599185" fill-rule="evenodd" stroke="none"/><!-- 326,318 a=1723 -->
<path d="M262.4 323.4 L264.1 326.3 L263.3 333.2 L268.0 337.0 L272.6 341.7 L277.2 343.2 L280.0 343.1 L284.6 342.1 L285.8 336.6 L284.4 336.3 L284.4 335.0 L285.4 330.3 L285.4 330.2 L285.4 330.1 L285.6 330.0 L286.9 327.3 L290.4 325.2 L293.4 322.2 L293.4 322.2 L293.9 318.2 L293.4 314.2 L293.4 314.2 L293.1 313.1 L293.2 312.4 L292.9 310.2 L293.4 306.7 L290.4 308.2 L286.4 307.7 L282.4 306.7 L278.9 305.2 L276.9 303.2 L275.4 300.6 L272.9 301.7 L271.4 304.2 L270.8 307.7 L269.8 309.2 L272.4 311.2 L272.9 314.2 L270.3 315.7 L267.3 317.7 L265.3 320.2 L263.3 322.9Z" fill="#6d948b" fill-rule="evenodd" stroke="none"/><!-- 286,321 a=819 -->
<path d="M293.9 306.2 L298.5 303.9 L303.1 300.8 L307.0 293.1 L312.3 294.6 L318.5 296.9 L326.2 299.2 L329.3 300.8 L333.1 298.5 L337.0 299.2 L341.6 297.7 L343.7 296.7 L341.6 292.8 L340.5 290.6 L340.1 289.7 L340.2 289.6 L339.3 288.2 L336.0 286.1 L333.6 284.6 L329.6 282.1 L326.6 279.1 L322.5 281.6 L318.5 281.1 L314.5 280.1 L311.5 276.1 L307.5 273.5 L302.5 271.0 L298.5 267.5 L293.9 266.0 L294.9 263.0 L294.4 259.3 L292.4 256.3 L289.3 253.7 L285.3 253.7 L282.3 252.2 L281.8 249.2 L278.3 247.2 L274.3 245.7 L270.8 244.7 L268.8 241.7 L270.3 239.2 L272.3 236.2 L271.8 232.7 L268.3 233.7 L265.3 234.7 L262.7 233.2 L260.2 234.2 L258.2 236.7 L255.2 240.2 L252.2 243.2 L249.7 246.2 L247.2 250.2 L243.6 253.6 L246.6 253.1 L248.6 256.2 L251.6 260.2 L252.4 262.2 L252.8 262.0 L253.8 266.0 L253.0 268.5 L252.6 271.2 L251.8 275.9 L251.8 276.1 L251.6 277.4 L252.6 281.3 L256.0 284.3 L254.7 284.6 L255.3 287.1 L255.8 290.1 L259.3 289.1 L263.3 289.1 L267.3 288.6 L270.8 287.6 L273.9 286.6 L276.9 288.1 L279.9 290.1 L282.4 293.1 L284.4 297.1 L286.4 301.2 L289.4 303.7 L292.4 305.7 L293.4 306.7 L292.9 310.2 L293.2 312.4Z" fill="#4b8f80" fill-rule="evenodd" stroke="none"/><!-- 300,275 a=3032 -->
<path d="M339.9 203.5 L338.0 202.0 L335.0 199.5 L334.0 202.0 L333.0 206.1 L333.5 209.6 L335.5 211.6 L336.0 215.1 L335.0 213.1 L332.5 211.6 L330.5 210.1 L331.5 205.1 L332.5 201.0 L333.0 197.5 L331.7 195.0 L331.0 196.0 L330.5 200.0 L328.0 203.1 L325.7 206.6 L325.2 210.1 L323.2 215.1 L321.2 219.1 L319.7 223.1 L320.5 225.3 L324.5 226.3 L327.7 228.6 L329.7 233.0 L330.1 238.2 L329.7 243.0 L327.3 242.4 L325.0 239.2 L326.7 238.0 L327.1 234.7 L326.0 231.4 L323.7 230.0 L320.5 229.7 L320.3 232.2 L317.7 236.7 L314.4 239.2 L310.4 241.7 L307.4 243.7 L304.6 245.4 L301.4 243.2 L298.4 240.2 L296.6 235.2 L298.9 237.7 L301.9 240.2 L303.9 240.7 L306.4 238.4 L309.4 236.4 L312.4 234.4 L315.2 231.7 L316.4 228.6 L315.2 225.6 L315.4 222.1 L316.9 218.1 L319.0 214.1 L321.0 209.6 L320.8 206.1 L323.0 202.5 L326.0 199.0 L327.0 196.0 L325.5 193.0 L321.5 192.5 L318.5 194.5 L315.4 197.5 L312.4 200.0 L308.9 202.0 L305.4 205.1 L306.4 207.6 L303.4 211.6 L301.4 216.1 L303.4 219.1 L304.4 222.1 L301.4 224.6 L300.4 221.1 L298.4 217.1 L295.9 213.1 L295.8 212.9 L295.1 213.3 L294.9 217.1 L292.4 218.1 L290.8 220.1 L292.4 222.1 L292.9 224.6 L291.4 226.6 L288.3 228.1 L284.3 229.7 L279.3 230.2 L275.3 231.7 L271.8 232.7 L272.3 236.2 L270.3 239.2 L268.8 241.7 L270.8 244.7 L274.3 245.7 L278.3 247.2 L281.8 249.2 L282.3 252.2 L285.3 253.7 L289.3 253.7 L292.4 256.3 L294.4 259.3 L294.9 263.0 L293.9 266.0 L298.5 267.5 L302.5 271.0 L307.5 273.5 L311.5 276.1 L314.5 280.1 L318.5 281.1 L322.5 281.6 L326.6 279.1 L329.6 282.1 L333.6 284.6 L336.0 286.1 L339.3 288.2 L340.2 289.6 L344.7 285.1 L343.9 280.5 L347.0 275.9 L347.8 269.7 L343.9 265.1 L345.1 263.0 L343.6 259.3 L342.0 255.3 L341.5 251.2 L340.5 247.2 L340.0 243.2 L342.0 241.2 L344.6 238.2 L344.1 235.2 L343.6 231.2 L340.5 230.2 L337.0 228.6 L335.5 225.6 L336.5 223.1 L339.5 220.1 L342.0 217.1 L341.5 214.1 L340.5 210.6 L340.5 207.1 L339.7 203.7Z" fill="#67938a" fill-rule="evenodd" stroke="none"/><!-- 320,235 a=3785 -->
<path d="M206.4 228.1 L204.4 231.1 L201.4 233.6 L200.4 236.6 L201.4 239.6 L200.4 242.1 L204.4 242.6 L208.4 243.1 L212.4 244.1 L214.9 243.1 L216.4 239.6 L220.5 241.1 L223.5 245.1 L227.5 247.1 L233.5 248.1 L238.5 250.1 L243.6 253.6 L247.2 250.2 L249.7 246.2 L252.2 243.2 L255.2 240.2 L258.2 236.7 L260.2 234.2 L262.7 233.2 L265.3 234.7 L268.3 233.7 L271.8 232.7 L275.3 231.7 L279.3 230.2 L284.3 229.7 L288.3 228.1 L291.4 226.6 L292.9 224.6 L292.4 222.1 L290.8 220.1 L292.4 218.1 L288.3 219.1 L283.3 221.1 L279.3 222.6 L275.3 222.1 L270.3 218.1 L265.3 214.1 L260.2 210.1 L256.4 206.8 L256.0 207.2 L253.4 204.2 L252.3 203.2 L251.8 203.1 L249.2 203.1 L244.2 202.0 L241.2 201.5 L238.5 201.2 L235.5 204.7 L234.0 208.2 L234.5 212.7 L233.0 213.7 L229.5 210.7 L226.0 209.2 L223.5 206.2 L220.5 203.2 L218.5 202.2 L218.5 206.2 L218.0 210.2 L215.4 214.2 L215.3 214.4 L215.4 214.5 L214.3 215.3 L213.3 216.4 L212.4 219.0 L213.3 219.3 L215.4 219.3 L219.5 218.8 L220.0 220.2 L221.5 221.5 L220.9 222.3 L221.5 223.0 L219.9 223.3 L216.4 225.0 L213.4 228.1 L210.4 230.1Z" fill="#599185" fill-rule="evenodd" stroke="none"/><!-- 232,222 a=2357 -->
<path d="M295.8 212.9 L293.4 209.1 L290.3 205.1 L287.8 201.5 L286.8 199.0 L286.3 195.0 L284.3 195.5 L283.8 200.0 L284.3 206.1 L282.3 208.6 L277.8 210.1 L278.3 208.6 L281.3 207.1 L281.8 202.5 L280.3 201.5 L279.8 204.6 L276.3 204.1 L272.3 202.5 L268.3 201.0 L264.2 201.5 L265.3 199.5 L269.3 197.5 L266.3 196.0 L261.2 194.5 L256.2 192.5 L250.2 191.5 L244.2 191.0 L240.2 192.0 L237.2 189.7 L238.7 185.4 L244.9 185.8 L246.4 180.4 L242.5 174.3 L240.2 178.9 L235.6 182.7 L234.1 185.8 L229.4 186.5 L229.5 187.1 L230.0 189.2 L230.5 191.2 L232.5 196.2 L234.5 199.2 L236.6 200.3 L238.6 201.0 L238.7 201.0 L241.2 201.5 L243.6 201.7 L248.6 202.7 L251.8 203.1 L252.2 203.1 L252.3 203.2 L252.6 203.2 L253.4 204.2 L256.2 206.6 L256.4 206.8 L260.2 210.1 L265.3 214.1 L270.3 218.1 L275.3 222.1 L279.3 222.6 L283.3 221.1 L288.3 219.1 L292.4 218.1 L294.9 217.1 L295.1 213.3Z" fill="#71948c" fill-rule="evenodd" stroke="none"/><!-- 262,202 a=999 -->
<path d="M199.1 177.1 L199.0 177.0 L197.9 176.6 L194.4 176.1 L191.9 178.1 L189.3 180.6 L189.8 184.6 L187.3 187.6 L183.3 190.7 L180.8 194.2 L180.3 197.2 L181.8 200.7 L185.3 205.7 L188.3 208.2 L190.8 212.2 L194.4 214.7 L194.6 214.9 L194.9 214.5 L197.0 217.0 L197.4 217.3 L200.4 220.3 L202.4 223.0 L202.2 223.2 L202.4 223.5 L204.4 224.5 L206.4 228.1 L208.5 228.6 L211.5 228.6 L214.1 225.6 L218.1 223.6 L219.9 223.3 L220.5 223.0 L220.9 222.3 L220.5 221.8 L220.0 220.2 L218.5 219.0 L215.4 220.0 L213.3 219.3 L211.9 219.3 L212.4 217.3 L213.3 216.4 L213.4 216.0 L214.3 215.3 L215.3 214.4 L215.4 214.2 L218.0 210.2 L218.5 206.2 L218.5 202.2 L220.5 203.2 L223.5 206.2 L226.0 209.2 L229.5 210.7 L233.0 213.7 L234.5 212.7 L234.0 208.2 L235.5 204.7 L238.5 201.2 L236.6 200.3 L234.6 199.5 L232.6 197.0 L231.1 193.0 L229.8 189.2 L230.0 189.2 L229.5 187.1 L229.4 186.5 L228.7 186.6 L227.1 182.7 L221.7 180.4 L214.8 180.4 L211.7 183.5 L208.7 182.7 L207.1 176.6 L205.6 172.7 L202.5 173.5 L202.5 179.7 L199.4 179.7Z" fill="#5d9186" fill-rule="evenodd" stroke="none"/><!-- 205,200 a=1733 -->
<path d="M210.8 153.8 L212.4 151.3 L213.3 157.6 L214.6 166.3 L217.1 173.8 L222.7 177.6 L227.7 177.0 L232.1 171.3 L233.3 160.1 L232.7 150.1 L229.6 145.0 L232.5 143.8 L232.7 139.4 L227.7 135.0 L220.8 133.2 L215.2 136.3 L213.3 141.9 L207.1 141.3 L205.2 142.8 L207.1 147.5 L208.3 151.9Z" fill="#6d948b" fill-rule="evenodd" stroke="none"/><!-- 222,160 a=810 -->
<path d="M205.2 142.8 L204.0 145.8 L197.1 148.9 L190.9 151.9 L187.9 155.8 L184.0 156.6 L182.5 160.4 L179.4 164.3 L166.3 161.2 L165.3 160.9 L165.3 161.0 L165.8 166.1 L166.8 171.6 L168.3 176.6 L171.8 178.6 L174.3 181.1 L176.3 184.6 L180.3 187.1 L183.3 190.7 L187.3 187.6 L189.8 184.6 L189.3 180.6 L191.9 178.1 L194.4 176.1 L197.9 176.6 L199.0 177.0 L198.3 171.3 L200.2 168.2 L205.8 163.8 L210.2 160.1 L210.8 153.8 L208.3 151.9 L207.1 147.5Z" fill="#5d9186" fill-rule="evenodd" stroke="none"/><!-- 190,170 a=982 -->
<path d="M165.3 160.9 L157.0 158.1 L158.0 171.2 L155.8 172.0 L156.3 166.6 L154.0 161.9 L150.9 162.7 L145.9 161.6 L145.7 162.5 L146.4 168.1 L145.2 173.3 L147.7 173.6 L152.2 175.6 L155.7 177.1 L157.2 181.1 L159.2 185.6 L160.2 190.7 L163.2 191.7 L166.8 189.7 L170.3 187.1 L173.8 185.3 L176.3 184.6 L174.3 181.1 L171.8 178.6 L168.3 176.6 L166.8 171.6 L165.8 166.1 L165.3 161.0Z" fill="#6d948b" fill-rule="evenodd" stroke="none"/><!-- 162,175 a=480 -->
<path d="M160.2 190.7 L159.2 185.6 L157.2 181.1 L155.7 177.1 L152.2 175.6 L147.7 173.6 L145.2 173.3 L142.2 174.6 L139.2 178.6 L135.6 182.3 L138.1 184.6 L141.2 187.1 L144.2 190.2 L148.2 190.7 L150.2 189.7 L152.2 192.2 L154.7 194.7 L157.7 196.7 L160.2 197.7 L160.7 194.2Z" fill="#4f8f82" fill-rule="evenodd" stroke="none"/><!-- 148,183 a=329 -->
<path d="M145.9 161.6 L144.0 161.2 L137.0 164.3 L132.4 168.1 L125.5 173.5 L124.7 178.1 L127.8 182.0 L125.5 186.6 L126.3 187.3 L127.9 187.1 L129.6 187.6 L132.1 185.1 L135.6 182.3 L139.2 178.6 L142.2 174.6 L145.2 173.3 L146.4 168.1 L145.7 162.5Z" fill="#69938a" fill-rule="evenodd" stroke="none"/><!-- 135,173 a=304 -->
<path d="M160.2 197.7 L157.7 196.7 L154.7 194.7 L152.2 192.2 L150.2 189.7 L148.2 190.7 L144.2 190.2 L141.2 187.1 L138.1 184.6 L135.6 182.3 L132.1 185.1 L129.6 187.6 L127.9 187.1 L129.6 191.2 L132.1 195.7 L135.1 198.2 L137.6 199.7 L138.6 204.2 L142.2 203.7 L144.7 206.2 L148.2 209.2 L152.2 211.2 L154.2 208.2 L156.7 204.7 L160.2 202.7 L163.2 202.2 L162.7 199.7Z" fill="#67938a" fill-rule="evenodd" stroke="none"/><!-- 145,198 a=452 -->
<path d="M125.5 186.6 L117.8 191.2 L116.2 199.7 L114.3 200.6 L115.1 202.2 L119.1 203.7 L122.6 204.7 L126.1 203.7 L129.1 207.2 L134.1 207.7 L138.6 204.2 L137.6 199.7 L135.1 198.2 L132.1 195.7 L129.6 191.2 L127.9 187.1 L126.3 187.3Z" fill="#69938a" fill-rule="evenodd" stroke="none"/><!-- 126,195 a=291 -->
<path d="M114.3 200.6 L113.1 201.2 L110.1 197.4 L103.9 204.3 L109.3 209.7 L110.8 215.9 L109.2 216.5 L111.0 216.8 L115.1 217.3 L115.3 217.3 L115.1 216.5 L115.3 217.3 L119.1 216.3 L120.1 214.2 L121.6 209.2 L122.6 204.7 L119.1 203.7 L115.1 202.2Z" fill="#559084" fill-rule="evenodd" stroke="none"/><!-- 112,207 a=206 -->
<path d="M138.6 204.2 L134.1 207.7 L129.1 207.2 L126.1 203.7 L122.6 204.7 L121.6 209.2 L120.1 214.2 L119.1 216.3 L125.1 216.8 L125.6 216.8 L125.6 216.5 L125.6 216.8 L132.1 216.8 L137.6 216.8 L137.7 216.5 L137.7 216.4 L138.1 215.3 L137.3 213.6 L136.6 212.2 L135.6 208.2Z" fill="#7d9690" fill-rule="evenodd" stroke="none"/><!-- 129,212 a=170 -->
<path d="M139.2 225.0 L143.2 226.5 L147.2 227.0 L149.7 227.0 L149.2 225.0 L148.7 219.0 L150.2 215.0 L150.7 214.0 L152.2 214.0 L152.7 214.9 L152.2 211.2 L148.2 209.2 L144.7 206.2 L142.2 203.7 L138.6 204.2 L135.6 208.2 L136.6 212.2 L137.3 213.6 L139.2 212.7 L140.7 214.2 L142.2 213.0 L143.7 214.7 L145.2 213.7 L145.7 216.3 L143.2 216.8 L141.2 215.8 L139.7 216.3 L137.9 216.5 L137.9 216.8 L138.1 221.0Z" fill="#559084" fill-rule="evenodd" stroke="none"/><!-- 144,220 a=231 -->
<path d="M152.7 214.9 L153.2 216.0 L154.7 217.5 L156.4 218.3 L158.9 218.8 L161.2 218.5 L165.3 218.0 L167.0 217.7 L169.3 216.8 L171.8 215.3 L170.3 211.2 L169.3 207.7 L166.3 204.7 L163.2 202.2 L160.2 202.7 L156.7 204.7 L154.2 208.2 L152.2 211.2Z" fill="#659389" fill-rule="evenodd" stroke="none"/><!-- 161,210 a=230 -->
<path d="M160.2 190.7 L160.7 194.2 L160.2 197.7 L162.7 199.7 L163.2 202.2 L166.3 204.7 L169.3 207.7 L170.3 211.2 L171.8 215.3 L175.3 215.8 L178.6 216.2 L180.3 216.0 L181.3 219.0 L183.3 222.0 L183.8 222.7 L185.3 225.0 L188.3 228.1 L190.3 230.1 L193.4 230.1 L195.4 229.1 L197.4 227.5 L200.4 226.5 L204.4 224.5 L202.4 223.5 L202.2 223.2 L200.4 221.0 L197.9 218.0 L197.0 217.0 L194.6 214.9 L194.4 214.7 L190.8 212.2 L188.3 208.2 L185.3 205.7 L181.8 200.7 L180.3 197.2 L180.8 194.2 L183.3 190.7 L180.3 187.1 L176.3 184.6 L173.8 185.3 L170.3 187.1 L166.8 189.7 L163.2 191.7Z" fill="#619288" fill-rule="evenodd" stroke="none"/><!-- 172,200 a=777 -->
<path d="M157.7 219.0 L161.2 221.0 L165.3 223.5 L168.3 225.5 L169.8 227.5 L172.3 230.1 L174.8 232.6 L178.3 233.1 L180.3 232.6 L181.8 235.1 L184.3 236.6 L188.3 236.6 L192.4 236.6 L193.9 234.1 L194.9 231.1 L195.4 229.1 L193.4 230.1 L190.3 230.1 L188.3 228.1 L185.3 225.0 L183.8 222.7 L183.3 223.0 L180.3 219.3 L179.3 216.3 L178.6 216.2 L176.3 216.5 L170.3 217.0 L167.0 217.7 L165.3 218.3 L161.2 219.3 L158.9 218.8Z" fill="#71948c" fill-rule="evenodd" stroke="none"/><!-- 170,220 a=343 -->
<path d="M105.8 217.8 L104.7 218.2 L106.2 222.0 L103.8 225.9 L104.0 226.0 L108.0 228.1 L111.5 231.1 L115.1 234.1 L117.6 236.1 L119.6 233.6 L118.6 230.1 L118.1 226.0 L116.1 221.0 L115.3 217.3 L115.1 217.3 L111.0 216.8 L109.2 216.5Z" fill="#6d948b" fill-rule="evenodd" stroke="none"/><!-- 110,223 a=175 -->
<path d="M103.8 225.9 L102.4 228.2 L106.2 239.0 L109.3 247.4 L109.3 247.7 L109.2 248.7 L109.8 248.8 L112.0 246.1 L114.6 242.6 L116.1 239.1 L117.6 236.1 L115.1 234.1 L111.5 231.1 L108.0 228.1 L104.0 226.0Z" fill="#559084" fill-rule="evenodd" stroke="none"/><!-- 109,237 a=163 -->
<path d="M119.6 233.6 L122.6 231.1 L125.1 229.6 L127.1 228.6 L126.6 226.0 L125.9 221.0 L125.6 216.8 L125.6 216.8 L125.1 216.8 L119.1 216.3 L115.3 217.3 L115.3 217.3 L116.1 221.0 L118.1 226.0 L118.6 230.1Z" fill="#659389" fill-rule="evenodd" stroke="none"/><!-- 122,224 a=132 -->
<path d="M127.1 228.6 L130.1 230.1 L133.1 230.6 L135.1 228.1 L137.6 225.5 L139.2 225.0 L138.1 221.0 L137.9 216.8 L137.6 216.8 L132.1 216.8 L125.6 216.8 L125.9 221.0 L126.6 226.0Z" fill="#659389" fill-rule="evenodd" stroke="none"/><!-- 132,224 a=145 -->
<path d="M127.1 228.6 L125.1 229.6 L122.6 231.1 L119.6 233.6 L121.6 235.1 L123.6 237.6 L125.6 240.6 L127.6 244.1 L129.1 243.1 L129.6 239.6 L132.1 237.6 L135.1 236.1 L134.1 233.6 L133.1 230.6 L130.1 230.1Z" fill="#599185" fill-rule="evenodd" stroke="none"/><!-- 127,236 a=120 -->
<path d="M133.1 230.6 L134.1 233.6 L135.1 236.1 L137.6 237.6 L140.2 239.1 L142.7 241.6 L144.7 243.1 L145.4 242.8 L147.2 242.1 L150.2 240.6 L152.7 238.6 L151.7 235.1 L150.7 231.1 L149.7 227.0 L147.2 227.0 L143.2 226.5 L139.2 225.0 L137.6 225.5 L135.1 228.1Z" fill="#619288" fill-rule="evenodd" stroke="none"/><!-- 143,234 a=231 -->
<path d="M135.1 236.1 L132.1 237.6 L129.6 239.6 L129.1 243.1 L127.6 244.1 L129.1 247.1 L130.6 250.6 L132.1 254.2 L136.1 253.6 L140.7 252.6 L142.2 249.1 L143.2 245.1 L144.7 243.1 L142.7 241.6 L140.2 239.1 L137.6 237.6Z" fill="#4b8f80" fill-rule="evenodd" stroke="none"/><!-- 136,246 a=199 -->
<path d="M109.2 248.7 L108.7 252.6 L109.6 252.7 L112.0 253.6 L115.1 255.2 L118.6 256.7 L120.1 255.2 L123.1 253.1 L126.1 253.6 L128.6 255.2 L130.6 256.7 L132.1 254.2 L130.6 250.6 L129.1 247.1 L127.6 244.1 L125.6 240.6 L123.6 237.6 L121.6 235.1 L119.6 233.6 L117.6 236.1 L116.1 239.1 L114.6 242.6 L112.0 246.1 L109.8 248.8Z" fill="#69938a" fill-rule="evenodd" stroke="none"/><!-- 120,247 a=291 -->
<path d="M149.7 227.0 L150.7 231.1 L151.7 235.1 L156.2 234.1 L160.2 233.6 L162.7 233.1 L161.2 229.1 L159.2 225.0 L157.2 221.5 L155.7 219.0 L155.0 217.9 L153.2 217.3 L152.7 215.3 L152.7 214.9 L152.2 214.0 L150.7 214.0 L150.2 215.0 L148.7 219.0 L149.2 225.0Z" fill="#7d9690" fill-rule="evenodd" stroke="none"/><!-- 154,227 a=169 -->
<path d="M161.2 229.1 L162.7 233.1 L165.3 231.1 L168.3 230.1 L169.8 227.5 L168.3 225.5 L165.3 223.5 L161.2 221.0 L157.7 219.0 L156.4 218.3 L156.2 218.3 L155.0 217.9 L155.7 219.0 L157.2 221.5 L159.2 225.0Z" fill="#619288" fill-rule="evenodd" stroke="none"/><!-- 163,227 a=85 -->
<path d="M195.4 229.1 L194.9 231.1 L193.9 234.1 L192.4 236.6 L188.3 236.6 L184.3 236.6 L186.3 239.6 L187.3 242.1 L183.3 243.6 L180.3 245.1 L183.3 248.1 L186.3 250.1 L188.3 253.1 L188.8 257.2 L188.4 260.1 L188.3 261.2 L189.3 264.2 L190.3 262.2 L193.4 260.2 L196.4 258.2 L199.4 256.2 L202.4 253.6 L205.4 255.2 L207.4 257.2 L209.4 258.7 L210.4 256.2 L212.4 253.1 L214.4 250.1 L216.9 248.1 L215.4 246.1 L214.9 243.1 L212.4 244.1 L208.4 243.1 L204.4 242.6 L200.4 242.1 L201.4 239.6 L200.4 236.6 L201.4 233.6 L204.4 231.1 L206.4 228.1 L204.4 224.5 L200.4 226.5 L197.4 227.5Z" fill="#7b9690" fill-rule="evenodd" stroke="none"/><!-- 200,248 a=602 -->
<path d="M209.4 258.7 L207.4 257.2 L205.4 255.2 L202.4 253.6 L199.4 256.2 L196.4 258.2 L193.4 260.2 L190.3 262.2 L189.3 264.2 L191.4 267.2 L191.9 267.7 L194.1 268.0 L196.4 268.5 L196.9 268.2 L197.9 270.2 L196.4 271.7 L196.9 272.5 L197.6 272.0 L200.8 271.2 L200.9 270.7 L203.4 268.7 L205.4 265.7 L207.4 262.2Z" fill="#79968f" fill-rule="evenodd" stroke="none"/><!-- 199,264 a=197 -->
<path d="M214.9 243.1 L215.4 246.1 L216.9 248.1 L214.4 250.1 L212.4 253.1 L210.4 256.2 L209.4 258.7 L207.4 262.2 L205.4 265.7 L203.4 268.7 L200.9 270.7 L200.8 271.2 L201.6 271.0 L204.1 275.1 L207.1 278.6 L209.6 281.6 L210.6 283.0 L210.9 283.3 L212.4 282.3 L216.4 279.2 L220.5 277.7 L224.5 276.2 L229.5 274.2 L232.5 271.2 L231.5 268.2 L232.5 265.2 L236.5 263.2 L239.5 260.2 L241.5 257.2 L243.6 253.6 L238.5 250.1 L233.5 248.1 L227.5 247.1 L223.5 245.1 L220.5 241.1 L216.4 239.6Z" fill="#879893" fill-rule="evenodd" stroke="none"/><!-- 226,261 a=920 -->
<path d="M145.4 242.8 L144.7 243.1 L143.2 245.1 L142.2 249.1 L140.7 252.6 L143.2 257.2 L145.7 260.2 L148.2 263.2 L151.2 264.7 L154.7 266.2 L156.7 264.2 L157.7 261.2 L159.2 258.2 L162.0 257.8 L160.2 258.0 L157.7 256.2 L154.7 253.9 L152.2 251.6 L150.7 247.6 L148.7 244.6 L145.4 242.9Z" fill="#79968f" fill-rule="evenodd" stroke="none"/><!-- 147,255 a=230 -->
<path d="M152.7 238.6 L150.2 240.6 L147.2 242.1 L145.4 242.8 L145.4 242.9 L148.7 244.6 L150.7 247.6 L152.2 251.6 L154.7 253.9 L157.7 256.2 L160.2 258.0 L162.0 257.8 L162.7 257.7 L162.7 257.6 L164.2 254.7 L162.2 252.1 L159.2 251.1 L156.7 249.1 L156.2 245.1 L154.2 242.1Z" fill="#7f9791" fill-rule="evenodd" stroke="none"/><!-- 155,248 a=122 -->
<path d="M151.7 235.1 L152.7 238.6 L154.2 242.1 L156.2 245.1 L156.7 249.1 L159.2 251.1 L162.2 250.1 L165.3 249.6 L168.3 248.6 L170.8 247.1 L172.3 243.6 L175.3 242.1 L178.3 243.6 L180.3 245.1 L183.3 243.6 L187.3 242.1 L186.3 239.6 L184.3 236.6 L181.8 235.1 L180.3 232.6 L178.3 233.1 L174.8 232.6 L172.3 230.1 L169.8 227.5 L168.3 230.1 L165.3 231.1 L162.7 233.1 L160.2 233.6 L156.2 234.1Z" fill="#7d9690" fill-rule="evenodd" stroke="none"/><!-- 170,239 a=443 -->
<path d="M159.2 251.1 L162.2 252.1 L164.2 254.7 L166.8 257.2 L170.3 256.7 L174.3 255.7 L176.8 255.2 L177.3 251.6 L175.3 249.6 L172.3 248.1 L170.8 247.1 L168.3 248.6 L165.3 249.6 L162.2 250.1Z" fill="#7d9690" fill-rule="evenodd" stroke="none"/><!-- 170,252 a=104 -->
<path d="M188.8 257.2 L188.3 253.1 L186.3 250.1 L183.3 248.1 L180.3 245.1 L178.3 243.6 L175.3 242.1 L172.3 243.6 L170.8 247.1 L172.3 248.1 L175.3 249.6 L177.3 251.6 L176.8 255.2 L180.3 256.2 L184.3 257.2 L187.3 259.2Z" fill="#599185" fill-rule="evenodd" stroke="none"/><!-- 181,251 a=144 -->
<path d="M188.4 260.1 L188.8 257.2 L187.3 259.2 L184.3 257.2 L180.3 256.2 L176.8 255.2 L174.3 255.7 L170.3 256.7 L170.3 260.2 L171.3 262.7 L174.3 264.7 L174.8 268.2 L176.3 272.2 L179.3 273.2 L182.8 275.2 L184.3 279.2 L186.3 281.8 L188.3 280.3 L190.3 277.2 L190.5 277.2 L190.5 277.1 L190.6 277.1 L194.4 276.2 L197.3 275.2 L197.3 275.2 L197.3 275.0 L196.5 273.4 L195.4 273.7 L196.1 273.0 L195.1 272.0 L195.4 271.4 L194.4 269.7 L191.9 267.7 L191.0 267.5 L188.5 265.0 L188.0 262.0 L187.8 260.0Z" fill="#659389" fill-rule="evenodd" stroke="none"/><!-- 183,267 a=359 -->
<path d="M164.2 254.7 L162.7 257.6 L162.9 257.7 L162.0 257.8 L159.2 258.2 L157.7 261.2 L156.7 264.2 L154.7 266.2 L158.2 271.2 L160.2 269.7 L163.2 268.2 L166.3 269.2 L169.3 270.7 L171.8 272.7 L174.3 273.7 L176.3 272.2 L174.8 268.2 L174.3 264.7 L171.3 262.7 L170.3 260.2 L170.3 256.7 L166.8 257.2Z" fill="#79968f" fill-rule="evenodd" stroke="none"/><!-- 166,263 a=214 -->
<path d="M182.8 275.2 L179.3 273.2 L176.3 272.2 L174.3 273.7 L171.8 272.7 L169.3 270.7 L166.3 269.2 L163.2 268.2 L160.2 269.7 L158.2 271.2 L159.2 272.7 L160.2 275.2 L161.2 280.3 L162.2 285.3 L163.1 287.7 L163.4 287.6 L163.5 288.0 L164.2 288.0 L168.2 286.8 L172.2 285.3 L176.2 283.2 L180.3 281.2 L183.3 279.2Z" fill="#539083" fill-rule="evenodd" stroke="none"/><!-- 170,278 a=294 -->
<path d="M130.8 287.8 L133.9 286.2 L137.8 283.9 L142.4 284.7 L144.0 289.3 L147.8 289.3 L152.4 287.8 L158.6 288.5 L163.2 289.3 L163.6 289.8 L163.7 289.8 L163.5 288.0 L163.2 288.0 L163.1 287.7 L162.2 285.3 L161.2 280.3 L160.2 275.2 L159.2 272.7 L158.2 271.2 L154.7 266.2 L151.2 264.7 L148.2 263.2 L145.7 260.2 L143.2 257.2 L140.7 252.6 L136.1 253.6 L132.1 254.2 L130.6 256.7 L130.1 260.2 L133.1 263.2 L136.6 266.2 L138.1 269.7 L135.1 271.7 L138.1 274.2 L140.2 277.2 L141.2 281.3 L141.5 283.3 L139.7 282.3 L135.1 280.3 L130.1 279.2 L125.1 280.3 L122.1 281.3 L119.1 280.3 L116.1 279.7 L112.0 280.3 L111.0 280.8 L112.2 281.1 L115.2 280.6 L117.7 280.1 L120.2 281.6 L122.2 282.6 L124.7 283.6 L127.3 284.7 L128.8 287.2 L130.5 287.2Z" fill="#71948c" fill-rule="evenodd" stroke="none"/><!-- 148,275 a=732 -->
<path d="M120.1 255.2 L118.6 256.7 L119.1 259.2 L118.1 262.2 L115.1 264.2 L116.1 267.2 L114.1 269.7 L110.0 268.2 L108.0 269.7 L109.5 272.2 L108.5 275.2 L109.5 278.2 L109.9 280.5 L110.2 280.6 L111.0 280.8 L112.0 280.3 L116.1 279.7 L119.1 280.3 L122.1 281.3 L125.1 280.3 L130.1 279.2 L135.1 280.3 L139.7 282.3 L141.5 283.3 L141.2 281.3 L140.2 277.2 L138.1 274.2 L135.1 271.7 L138.1 269.7 L136.6 266.2 L133.1 263.2 L130.1 260.2 L130.6 256.7 L128.6 255.2 L126.1 253.6 L123.1 253.1Z" fill="#7d9690" fill-rule="evenodd" stroke="none"/><!-- 124,267 a=562 -->
<path d="M108.7 252.6 L108.5 254.6 L104.7 256.9 L97.0 258.5 L93.1 254.6 L90.0 255.4 L90.8 259.3 L89.3 259.5 L90.6 261.1 L92.1 265.1 L91.1 269.1 L92.6 272.6 L91.6 275.1 L95.1 276.6 L98.6 277.1 L100.6 280.1 L101.7 285.2 L102.7 287.7 L106.2 285.2 L110.2 284.2 L112.7 282.1 L110.7 280.9 L110.0 281.3 L109.9 280.5 L109.5 278.2 L108.5 275.2 L109.5 272.2 L108.0 269.7 L110.0 268.2 L114.1 269.7 L116.1 267.2 L115.1 264.2 L118.1 262.2 L119.1 259.2 L118.6 256.7 L115.1 255.2 L112.0 253.6 L109.6 252.7Z" fill="#75958e" fill-rule="evenodd" stroke="none"/><!-- 106,271 a=560 -->
<path d="M71.6 280.6 L71.6 280.8 L71.6 280.8 L73.3 281.8 L75.6 283.1 L78.1 282.6 L81.1 283.1 L83.6 283.6 L84.6 284.7 L85.6 281.6 L87.1 278.1 L88.6 275.6 L91.6 275.1 L92.6 272.6 L91.1 269.1 L92.1 265.1 L90.6 261.1 L89.3 259.5 L88.5 259.6 L86.2 260.0 L84.6 254.6 L80.8 259.3 L75.4 258.5 L70.8 254.6 L71.6 264.6 L71.1 273.1Z" fill="#79968f" fill-rule="evenodd" stroke="none"/><!-- 80,265 a=462 -->
<path d="M91.6 275.1 L88.6 275.6 L87.1 278.1 L85.6 281.6 L84.6 284.7 L85.6 287.2 L86.6 290.2 L88.1 294.2 L88.8 295.0 L88.9 295.0 L88.8 295.1 L90.6 297.2 L93.1 299.7 L95.1 302.2 L98.1 302.7 L98.6 302.7 L101.7 302.7 L103.2 300.7 L103.7 296.2 L103.2 292.2 L102.7 287.7 L101.7 285.2 L100.6 280.1 L98.6 277.1 L95.1 276.6Z" fill="#4f8f82" fill-rule="evenodd" stroke="none"/><!-- 94,290 a=374 -->
<path d="M109.4 310.7 L113.9 310.1 L114.1 310.2 L114.4 309.4 L111.2 307.2 L109.2 304.7 L111.2 302.7 L114.2 300.7 L117.7 299.2 L120.7 297.2 L122.2 295.2 L121.2 293.2 L120.7 289.2 L121.2 285.2 L120.2 281.6 L117.7 280.1 L115.2 280.6 L112.2 281.1 L111.0 280.8 L110.7 280.9 L112.7 282.1 L110.2 284.2 L106.2 285.2 L102.7 287.7 L103.2 292.2 L103.7 296.2 L103.2 300.7 L101.7 302.7 L104.2 303.7 L106.2 306.2 L106.7 310.3 L109.2 309.2Z" fill="#819792" fill-rule="evenodd" stroke="none"/><!-- 112,292 a=370 -->
<path d="M114.1 310.2 L117.8 311.6 L121.6 312.4 L126.2 311.6 L128.5 304.7 L129.3 299.3 L127.8 293.9 L129.3 288.5 L130.8 287.8 L130.5 287.2 L128.8 287.2 L127.3 284.7 L124.7 283.6 L122.2 282.6 L120.2 281.6 L121.2 285.2 L120.7 289.2 L121.2 293.2 L122.2 295.2 L120.7 297.2 L117.7 299.2 L114.2 300.7 L111.2 302.7 L109.2 304.7 L111.2 307.2 L114.4 309.4Z" fill="#579184" fill-rule="evenodd" stroke="none"/><!-- 124,290 a=315 -->
<path d="M71.6 280.8 L75.4 287.0 L76.7 289.5 L77.3 289.2 L81.1 291.7 L84.6 292.2 L86.6 290.2 L85.6 287.2 L84.6 284.7 L83.6 283.6 L81.1 283.1 L78.1 282.6 L75.6 283.1 L73.3 281.8Z" fill="#619288" fill-rule="evenodd" stroke="none"/><!-- 81,287 a=84 -->
<path d="M78.7 293.8 L80.3 298.6 L81.4 298.2 L85.1 300.2 L88.1 301.2 L90.6 297.2 L88.8 295.1 L88.8 295.0 L87.1 295.2 L83.6 294.2 L79.9 293.4Z" fill="#619288" fill-rule="evenodd" stroke="none"/><!-- 85,297 a=54 -->
<path d="M80.3 298.6 L80.8 300.1 L82.3 305.5 L83.5 307.3 L84.9 306.4 L88.1 305.2 L90.1 303.2 L92.1 301.2 L93.1 299.7 L90.6 297.2 L88.1 301.2 L85.1 300.2 L81.4 298.2Z" fill="#659389" fill-rule="evenodd" stroke="none"/><!-- 86,303 a=61 -->
<path d="M83.5 307.3 L85.4 310.1 L85.8 311.0 L86.9 310.5 L91.1 309.2 L95.1 308.2 L98.1 305.2 L98.6 302.7 L98.1 302.7 L95.1 302.2 L93.1 299.7 L92.1 301.2 L90.1 303.2 L88.1 305.2 L84.9 306.4Z" fill="#69938a" fill-rule="evenodd" stroke="none"/><!-- 92,306 a=79 -->
<path d="M87.7 315.5 L87.7 315.5 L93.1 315.3 L97.1 314.3 L100.6 311.8 L99.1 310.3 L95.1 308.2 L91.1 309.2 L86.9 310.5 L85.8 311.0Z" fill="#6d948b" fill-rule="evenodd" stroke="none"/><!-- 94,312 a=72 -->
<path d="M106.0 314.7 L105.4 313.2 L106.6 312.1 L106.7 310.3 L106.2 306.2 L104.2 303.7 L101.7 302.7 L98.6 302.7 L98.1 305.2 L95.1 308.2 L99.1 310.3 L100.6 311.8 L97.1 314.3 L93.1 315.3 L87.7 315.5 L87.7 315.5 L90.0 321.6 L90.8 327.8 L93.1 331.7 L98.2 332.4 L98.5 327.8 L100.8 321.6 L103.1 317.0 L107.0 317.0Z" fill="#69938a" fill-rule="evenodd" stroke="none"/><!-- 103,309 a=276 -->
<path d="M163.6 289.8 L166.3 293.1 L170.1 297.8 L171.7 303.2 L174.0 308.5 L177.1 312.4 L181.7 313.9 L187.9 317.0 L190.9 320.9 L194.0 325.5 L198.6 328.6 L204.0 330.1 L207.1 327.8 L204.8 324.0 L204.8 320.1 L203.6 319.7 L204.1 316.2 L201.6 313.7 L198.6 312.7 L195.1 315.2 L190.0 312.2 L186.8 310.3 L186.5 310.8 L186.7 310.3 L186.5 310.2 L186.7 310.3 L187.0 309.2 L188.5 306.2 L189.5 302.7 L187.0 301.2 L187.5 297.2 L186.5 292.2 L185.7 288.0 L185.5 288.0 L185.4 286.9 L184.5 282.1 L182.8 275.2 L183.3 279.2 L180.3 281.3 L176.3 283.3 L172.3 285.3 L168.3 286.8 L164.2 288.0 L163.5 288.0 L163.7 289.8Z" fill="#819792" fill-rule="evenodd" stroke="none"/><!-- 174,297 a=734 -->
<path d="M210.6 283.0 L208.4 280.3 L205.4 277.2 L202.4 274.2 L200.4 273.7 L198.9 275.2 L197.4 275.2 L197.3 275.2 L197.6 276.6 L194.1 277.6 L190.6 277.1 L190.5 277.2 L189.0 281.1 L186.0 283.6 L185.6 283.5 L185.3 284.3 L185.4 286.9 L185.5 287.2 L185.7 288.0 L186.5 292.2 L187.5 297.2 L187.0 301.2 L189.5 302.7 L188.5 306.2 L187.0 309.2 L186.7 310.3 L186.8 310.3 L186.8 310.3 L190.0 312.2 L195.1 315.2 L198.6 312.7 L199.6 311.7 L202.1 308.2 L205.1 304.2 L208.1 302.2 L211.1 302.2 L214.1 301.7 L215.6 299.6 L213.1 299.1 L209.1 297.6 L205.6 296.1 L204.1 293.1 L204.6 290.1 L206.6 289.6 L208.1 292.1 L210.1 294.1 L213.1 294.6 L217.1 294.1 L218.1 292.1 L217.6 288.6 L214.1 286.1 L211.1 283.6Z" fill="#659389" fill-rule="evenodd" stroke="none"/><!-- 198,290 a=792 -->
<path d="M243.6 253.6 L241.5 257.2 L239.5 260.2 L236.5 263.2 L232.5 265.2 L231.5 268.2 L232.5 271.2 L229.5 274.2 L224.5 276.2 L220.5 277.7 L216.4 279.2 L212.4 282.3 L210.9 283.3 L210.6 283.0 L211.1 283.6 L214.1 286.1 L217.6 288.6 L220.2 289.6 L223.2 291.6 L226.7 294.1 L229.2 295.1 L231.2 296.6 L234.2 295.6 L236.7 296.6 L239.2 298.6 L241.7 299.6 L244.2 300.6 L245.3 298.1 L246.8 294.6 L250.3 294.1 L253.8 293.1 L255.8 290.1 L255.3 287.1 L254.7 284.6 L254.3 283.1 L251.3 280.1 L251.6 277.4 L251.6 277.2 L251.8 275.9 L252.3 271.0 L253.0 268.5 L253.6 265.2 L252.4 262.2 L251.6 260.2 L248.6 256.2 L246.6 253.1Z" fill="#599185" fill-rule="evenodd" stroke="none"/><!-- 235,282 a=1077 -->
<path d="M204.8 320.1 L207.9 316.3 L212.5 315.5 L217.1 317.0 L215.6 312.4 L217.1 310.1 L221.7 312.4 L226.4 313.2 L227.0 313.4 L227.0 313.4 L228.7 311.2 L227.2 309.2 L224.7 307.7 L224.2 305.2 L227.2 303.2 L229.7 301.7 L230.2 297.1 L231.2 296.6 L229.2 295.1 L226.7 294.1 L223.2 291.6 L220.2 289.6 L217.6 288.6 L218.1 292.1 L217.1 294.1 L213.1 294.6 L210.1 294.1 L208.1 292.1 L206.6 289.6 L204.6 290.1 L204.1 293.1 L205.6 296.1 L209.1 297.6 L213.1 299.1 L215.6 299.6 L214.1 301.7 L211.1 302.2 L208.1 302.2 L205.1 304.2 L202.1 308.2 L199.6 311.7 L198.6 312.7 L201.6 313.7 L204.1 316.2 L203.6 319.7Z" fill="#619288" fill-rule="evenodd" stroke="none"/><!-- 215,307 a=498 -->
<path d="M227.0 313.4 L232.5 315.5 L240.2 317.0 L247.9 318.6 L255.5 320.1 L255.5 319.9 L254.3 317.2 L252.3 314.2 L250.3 311.2 L247.3 308.7 L244.7 306.2 L243.2 303.2 L244.2 300.6 L241.7 299.6 L239.2 298.6 L236.7 296.6 L234.2 295.6 L231.2 296.6 L230.2 297.1 L229.7 301.7 L227.2 303.2 L224.2 305.2 L224.7 307.7 L227.2 309.2 L228.7 311.2 L227.0 313.4Z" fill="#71948c" fill-rule="evenodd" stroke="none"/><!-- 240,309 a=388 -->
<path d="M255.5 320.1 L255.6 320.1 L261.8 322.4 L262.4 323.4 L263.3 322.9 L265.3 320.2 L267.3 317.7 L270.3 315.7 L272.9 314.2 L272.4 311.2 L269.8 309.2 L270.8 307.7 L271.4 304.2 L272.9 301.7 L275.4 300.6 L276.9 303.2 L278.9 305.2 L282.4 306.7 L286.4 307.7 L290.4 308.2 L293.4 306.7 L292.4 305.7 L289.4 303.7 L286.4 301.2 L284.4 297.1 L282.4 293.1 L279.9 290.1 L276.9 288.1 L273.9 286.6 L270.8 287.6 L267.3 288.6 L263.3 289.1 L259.3 289.1 L255.8 290.1 L253.8 293.1 L250.3 294.1 L246.8 294.6 L245.3 298.1 L244.2 300.6 L243.2 303.2 L244.7 306.2 L247.3 308.7 L250.3 311.2 L252.3 314.2 L254.3 317.2 L255.5 319.9Z" fill="#7d9690" fill-rule="evenodd" stroke="none"/><!-- 265,302 a=920 -->
<ellipse cx="361.2" cy="137.4" rx="1.3" ry="1.0" fill="#8fb0a7"/>
<ellipse cx="376.3" cy="137.4" rx="1.3" ry="1.0" fill="#8fb0a7"/>
<ellipse cx="354.2" cy="146.2" rx="1.3" ry="1.0" fill="#8fb0a7"/>
<ellipse cx="359.3" cy="166.2" rx="1.3" ry="1.0" fill="#8fb0a7"/>
<ellipse cx="370.9" cy="170.1" rx="1.3" ry="1.0" fill="#8fb0a7"/>
<ellipse cx="355.5" cy="178.1" rx="1.3" ry="1.0" fill="#8fb0a7"/>
<ellipse cx="353.9" cy="184.0" rx="1.3" ry="1.0" fill="#8fb0a7"/>
<ellipse cx="347.0" cy="187.0" rx="1.3" ry="1.0" fill="#8fb0a7"/>
<ellipse cx="354.7" cy="193.2" rx="1.3" ry="1.0" fill="#8fb0a7"/>
<ellipse cx="402.2" cy="160.1" rx="1.3" ry="1.0" fill="#8fb0a7"/>
<ellipse cx="471.5" cy="128.5" rx="1.3" ry="1.0" fill="#8fb0a7"/>
<ellipse cx="479.5" cy="125.1" rx="1.3" ry="1.0" fill="#8fb0a7"/>
<ellipse cx="468.2" cy="163.9" rx="1.3" ry="1.0" fill="#8fb0a7"/>
<ellipse cx="475.9" cy="156.2" rx="1.3" ry="1.0" fill="#8fb0a7"/>
<path d="M664.1 216.6 L665.6 221.3 L666.7 225.9" fill="none" stroke="#a5c4bc" stroke-width="1.1"/>
<path d="M668.2 228.7 L670.4 234.4" fill="none" stroke="#a5c4bc" stroke-width="1.1"/>
<path d="M672.9 242.1 L675.0 246.7" fill="none" stroke="#a5c4bc" stroke-width="1.1"/>
<path d="M651.0 158.4 L657.5 154.6" fill="none" stroke="#a5c4bc" stroke-width="1.1"/>
<path d="M657.2 150.4 L660.4 148.9" fill="none" stroke="#a5c4bc" stroke-width="1.1"/>
<path d="M672.6 242.8 L674.9 246.5" fill="none" stroke="#a5c4bc" stroke-width="1.1"/>
<path d="M675.3 250.8 L676.6 256.6" fill="none" stroke="#a5c4bc" stroke-width="1.1"/>
<path d="M675.3 265.4 L675.9 273.1" fill="none" stroke="#a5c4bc" stroke-width="1.1"/>
<path d="M674.1 277.7 L672.6 286.2 L671.0 293.9" fill="none" stroke="#a5c4bc" stroke-width="1.1"/>
<path d="M670.4 295.8 L671.2 301.9" fill="none" stroke="#a5c4bc" stroke-width="1.1"/>
<path d="M676.7 294.7 L675.3 301.2" fill="none" stroke="#a5c4bc" stroke-width="1.1"/>
<path d="M611.3 105.3 L610.9 105.5 L606.3 107.8 L605.5 114.0 L603.2 120.9 L598.6 123.2 L594.8 127.8 L590.9 121.7 L586.3 124.0 L582.4 128.6 L578.6 134.7 L575.5 142.0 L576.5 143.0 M537.4 130.0 L537.8 130.1 L544.7 131.7 L547.8 134.7 L546.2 142.0 L545.0 142.1 M546.6 133.0 L544.7 135.0 L545.5 143.5 L547.8 148.1 L553.2 149.6 L557.8 149.6 L561.6 151.2 L567.8 148.1 L574.0 145.0 L577.0 141.9 L576.3 138.1 L578.6 135.0 L578.1 134.8 M576.7 141.7 L577.0 141.9 L581.7 145.0 L586.3 148.1 L590.9 150.4 L594.8 151.2 L597.8 149.6 L598.2 149.4 M558.9 149.6 L558.6 150.4 L557.0 156.6 L552.4 162.0 L552.4 167.3 L555.5 172.0 L560.1 177.4 L557.8 182.8 L553.2 186.6 L550.1 192.0 L552.4 194.3 L548.5 198.2 L550.9 204.3 L555.5 208.2 L558.6 212.0 L558.9 212.3 M558.3 212.2 L558.6 212.0 L563.2 208.9 L568.6 210.5 L571.7 215.1 L570.9 219.0 L575.5 218.2 L580.1 216.6 L581.7 218.2 L582.0 218.5 M558.8 211.7 L558.6 212.0 L556.3 215.9 L550.1 219.0 L544.7 222.0 L546.2 229.0 L546.2 235.1 L548.5 241.3 L552.4 247.0 L551.3 246.1 M551.3 246.1 L552.4 245.4 L547.8 250.8 L546.2 256.9 L540.8 260.8 L538.5 266.2 L539.3 273.1 L537.8 274.7 L541.6 278.5 L543.2 283.9 L546.2 286.2 L546.2 290.1 L550.9 288.5 L551.3 288.4 M495.3 311.8 L495.7 311.6 L503.1 308.5 L513.1 306.2 L521.6 305.5 L530.8 301.6 L538.5 297.0 L544.7 292.4 L550.9 288.5 L555.5 287.0 L556.3 292.4 L553.9 298.5 L553.2 303.2 L557.0 303.9 L560.9 306.2 L565.5 303.2 L569.3 298.5 L572.4 293.9 L576.3 295.5 L577.8 299.3 L574.0 303.2 L572.4 307.8 L570.1 313.9 L569.0 320.1 L570.1 324.7 L575.5 327.0 L578.6 332.4 L578.8 332.7 M580.1 339.6 L580.9 338.6 L578.6 332.4 L581.7 328.6 L587.8 326.3 L594.8 324.7 L599.4 322.4 L598.6 325.5 L599.2 325.2 M624.2 313.9 L622.5 314.3 L618.6 310.4 L615.6 310.1 L612.8 314.3 L614.0 316.6 L617.1 317.3 L616.3 322.0 L614.0 326.6 L610.2 328.9 L606.3 330.4 L604.0 334.3 L602.6 334.8 M495.4 311.3 L495.7 311.6 L500.0 315.5 L504.6 313.9 L510.0 317.0 L513.1 323.2 L516.2 329.3 L517.2 330.7 M453.9 382.1 L454.1 381.7 L456.4 376.3 L454.8 371.6 L458.7 370.1 L463.3 367.0 L469.5 362.4 L475.6 357.8 L481.8 353.2 L480.3 349.3 L477.9 347.0 L481.0 342.4 L485.6 337.8 L489.5 332.4 L486.4 327.0 L481.8 323.1 L477.9 318.5 L480.3 316.2 L485.6 314.6 L484.9 310.0 L482.6 306.2 L484.9 303.9 L488.7 303.6 L492.6 308.5 L495.7 311.6 L496.0 311.9 M442.0 290.5 L443.3 290.0 L444.1 297.7 L445.6 308.5 L448.7 310.0 L454.1 306.2 L457.2 303.9 L459.5 306.2 L462.5 300.8 L465.6 294.6 L468.7 291.5 L475.6 292.3 L477.2 296.2 L481.8 294.6 L485.6 298.5 L488.0 303.1 L488.7 303.6 L489.0 303.8 M426.2 289.7 L427.9 290.0 L423.3 294.6 L421.7 299.2 L422.5 303.9 L426.3 306.9 L424.8 310.8 L427.1 313.9 L425.6 318.5 L420.2 316.2 L416.3 314.6 L414.0 319.3 L410.2 323.1 L407.9 327.0 L408.6 330.4 L404.8 326.2 L401.7 327.7 L397.1 328.5 L394.0 331.6 L393.2 336.2 L394.8 339.3 L391.7 343.1 L390.1 348.5 L389.4 352.4 L386.3 355.5 L385.5 357.8 L387.8 360.1 L390.9 360.9 L391.3 361.0 M390.5 360.8 L390.9 360.9 L397.1 363.2 L402.5 365.5 L406.3 364.7 L408.6 363.2 L410.9 365.5 L415.6 368.6 L420.2 370.9 L425.6 374.0 L430.2 377.0 L433.3 375.5 L435.6 372.4 L439.4 368.6 L443.3 363.9 L447.1 358.5 L450.2 353.2 L451.8 347.0 L450.2 340.8 L448.7 335.4 L447.1 331.6 L449.4 328.5 L454.1 326.2 L458.7 323.1 L464.9 323.1 L471.0 321.6 L475.6 319.3 L477.9 318.5 L478.3 318.4 M402.6 365.1 L402.5 365.5 L401.7 370.1 L403.2 374.0 L403.3 374.4 M357.5 372.2 L357.8 372.4 L361.6 374.7 L369.3 375.5 L374.0 371.6 L378.6 365.5 L380.9 363.2 L387.8 362.1 L390.9 360.9 L391.3 360.8 M347.6 376.6 L347.8 377.0 L350.1 382.4 L351.6 388.6 L351.7 389.0 M345.3 262.7 L345.1 263.0 L343.9 265.1 L347.8 269.7 L347.0 275.9 L343.9 280.5 L344.7 285.1 L340.1 289.7 L341.6 292.8 L343.9 297.0 L344.1 297.4 M420.6 194.9 L419.9 194.3 L421.7 200.4 L425.6 206.6 L429.4 212.7 L425.6 217.3 L424.0 223.5 L419.4 227.4 L415.6 231.2 L417.9 237.4 L420.2 246.6 L417.1 251.2 L420.2 257.4 L423.3 263.6 L421.7 269.7 L427.9 272.0 L431.0 271.3 L434.0 275.9 L437.1 280.5 L441.0 286.7 L443.3 292.8 L444.1 297.0 L443.6 297.0 M428.1 271.6 L427.9 272.0 L425.6 277.4 L427.9 283.6 L426.3 291.3 L422.5 297.0 L422.1 296.9 M335.7 285.9 L336.0 286.1 L339.3 288.2 L340.8 290.5 L340.2 290.8 M146.0 161.2 L145.7 162.5 L146.4 168.1 L145.2 173.3 L145.1 173.7 M159.8 190.6 L160.2 190.7 L163.2 191.7 L166.8 189.7 L170.3 187.1 L173.8 185.3 L176.3 184.6 L176.7 184.5 M165.5 160.5 L165.3 161.0 L165.8 166.1 L166.8 171.6 L168.3 176.6 L171.8 178.6 L174.3 181.1 L176.3 184.6 L180.3 187.1 L183.3 190.7 L183.6 191.0 M183.0 190.9 L183.3 190.7 L187.3 187.6 L189.8 184.6 L189.3 180.6 L191.9 178.1 L194.4 176.1 L197.9 176.6 L199.4 177.1 L198.7 177.2 M135.9 182.1 L135.6 182.3 L132.1 185.1 L129.6 187.6 L127.9 187.1 L126.3 187.3 L125.2 186.3 M127.7 186.7 L127.9 187.1 L129.6 191.2 L132.1 195.7 L135.1 198.2 L137.6 199.7 L138.6 204.2 L138.7 204.6 M114.2 200.2 L115.1 202.2 L119.1 203.7 L122.6 204.7 L126.1 203.7 L129.1 207.2 L134.1 207.7 L138.6 204.2 L138.9 204.0 M122.7 204.3 L122.6 204.7 L121.6 209.2 L120.1 214.2 L119.1 216.3 L115.1 217.3 L111.0 216.8 L108.0 216.3 L105.0 215.8 L105.9 218.2 M138.8 203.9 L138.6 204.2 L135.6 208.2 L136.6 212.2 L138.1 215.3 L137.6 216.8 L137.5 217.2 M118.7 216.3 L119.1 216.3 L125.1 216.8 L132.1 216.8 L137.6 216.8 L138.0 216.8 M138.2 204.3 L138.6 204.2 L142.2 203.7 L144.7 206.2 L148.2 209.2 L152.2 211.2 L154.2 208.2 L156.7 204.7 L160.2 202.7 L163.2 202.2 L162.7 199.7 L160.2 197.7 L159.9 197.5 M162.9 201.9 L163.2 202.2 L166.3 204.7 L169.3 207.7 L170.3 211.2 L171.8 215.3 L169.3 216.8 L165.3 218.3 L161.2 219.3 L156.2 218.3 L153.2 217.3 L152.7 215.3 L152.2 211.2 L152.2 210.8 M183.5 190.4 L183.3 190.7 L180.8 194.2 L180.3 197.2 L181.8 200.7 L185.3 205.7 L188.3 208.2 L190.8 212.2 L194.4 214.7 L197.4 217.3 L200.4 220.3 L202.4 223.0 L201.8 223.4 M171.4 215.2 L171.8 215.3 L175.3 215.8 L179.3 216.3 L180.3 219.3 L183.3 223.0 L184.1 222.5 M238.8 200.9 L238.5 201.2 L235.5 204.7 L234.0 208.2 L234.5 212.7 L233.0 213.7 L229.5 210.7 L226.0 209.2 L223.5 206.2 L220.5 203.2 L218.5 202.2 L218.5 206.2 L218.0 210.2 L215.4 214.2 L212.4 217.3 L211.9 219.3 L215.4 219.3 L219.5 218.8 L220.5 221.8 L221.5 223.0 L221.8 223.3 M229.4 186.1 L229.5 187.1 L230.5 191.2 L232.5 196.2 L234.5 199.2 L238.5 201.2 L243.6 201.7 L248.6 202.7 L252.6 203.2 L256.0 207.2 L256.6 206.5 M136.9 213.8 L139.2 212.7 L140.7 214.2 L142.2 213.0 L143.7 214.7 L145.2 213.7 L145.7 216.3 L143.2 216.8 L141.2 215.8 L139.7 216.3 L137.5 216.5 M115.4 217.6 L115.1 216.5 L116.1 221.0 L118.1 226.0 L118.6 230.1 L119.6 233.6 L119.7 234.0 M125.6 217.2 L125.6 216.5 L125.9 221.0 L126.6 226.0 L127.1 228.6 L127.2 229.0 M137.3 216.3 L137.9 216.5 L138.1 221.0 L139.2 225.0 L139.3 225.4 M103.5 225.7 L104.0 226.0 L108.0 228.1 L111.5 231.1 L115.1 234.1 L117.6 236.1 L119.6 233.6 L119.8 233.3 M117.8 235.7 L117.6 236.1 L116.1 239.1 L114.6 242.6 L112.0 246.1 L109.8 248.8 L108.8 248.7 M132.3 253.9 L132.1 254.2 L130.6 256.7 L128.6 255.2 L126.1 253.6 L123.1 253.1 L120.1 255.2 L118.6 256.7 L115.1 255.2 L112.0 253.6 L109.6 252.7 L108.3 252.6 M194.3 215.2 L194.9 214.5 L197.9 218.0 L200.4 221.0 L202.4 223.5 L204.4 224.5 L206.4 228.1 L210.4 230.1 L213.4 228.1 L216.4 225.0 L220.5 223.0 L221.5 221.5 L218.5 219.0 L215.4 220.0 L212.4 219.0 L213.4 216.0 L215.4 214.5 L215.0 214.1 M204.8 224.3 L204.4 224.5 L200.4 226.5 L197.4 227.5 L195.4 229.1 L195.1 229.3 M243.2 253.7 L243.6 253.6 L246.6 253.1 L248.6 256.2 L251.6 260.2 L253.6 265.2 L252.6 271.2 L251.6 277.2 L252.6 281.3 L256.0 284.3 L254.3 284.7 M145.2 242.5 L145.4 242.9 L148.7 244.6 L150.7 247.6 L152.2 251.6 L154.7 253.9 L157.7 256.2 L160.2 258.0 L162.9 257.7 L162.4 257.4 M197.0 275.2 L197.4 275.2 L198.9 275.2 L200.4 273.7 L200.7 273.4 M186.4 281.4 L186.3 281.8 L185.3 284.3 L185.5 288.0 L186.0 287.9 M194.1 270.0 L194.9 269.2 L196.9 268.2 L197.9 270.2 L196.4 271.7 L197.4 273.2 L195.4 273.7 L196.4 272.7 M88.6 260.0 L88.3 258.3 L90.6 261.1 L92.1 265.1 L91.1 269.1 L92.6 272.6 L91.6 275.1 L88.6 275.6 L87.1 278.1 L85.6 281.6 L84.6 284.7 L84.5 285.1 M91.2 274.9 L91.6 275.1 L95.1 276.6 L98.6 277.1 L100.6 280.1 L101.7 285.2 L102.7 287.7 L103.2 292.2 L103.7 296.2 L103.2 300.7 L101.7 302.7 L98.1 302.7 L95.1 302.2 L93.1 299.7 L90.6 297.2 L88.1 294.2 L86.6 290.2 L85.6 287.2 L84.6 284.7 L84.5 284.3 M72.0 280.5 L71.2 280.6 L75.6 283.1 L78.1 282.6 L81.1 283.1 L83.6 283.6 L84.6 284.7 L84.9 285.0 M76.3 289.7 L77.3 289.2 L81.1 291.7 L84.6 292.2 L86.6 290.2 L86.9 289.9 M78.3 293.9 L79.9 293.4 L83.6 294.2 L87.1 295.2 L88.9 295.0 L88.5 295.3 M79.9 298.7 L81.4 298.2 L85.1 300.2 L88.1 301.2 L90.6 297.2 L90.8 296.9 M83.2 307.5 L84.9 306.4 L88.1 305.2 L90.1 303.2 L92.1 301.2 L93.1 299.7 L93.3 299.4 M85.4 311.1 L86.9 310.5 L91.1 309.2 L95.1 308.2 L98.1 305.2 L98.6 302.7 L98.7 302.3 M94.7 308.0 L95.1 308.2 L99.1 310.3 L100.6 311.8 L97.1 314.3 L93.1 315.3 L87.6 315.5 L88.1 315.3 M101.3 302.6 L101.7 302.7 L104.2 303.7 L106.2 306.2 L106.7 310.3 L106.4 314.5 L105.6 314.8 M77.1 266.1 L78.6 269.6 L82.1 271.6 L82.6 274.6 L79.1 276.1 L75.6 277.6 L74.5 279.6 L73.1 282.1 M102.4 287.9 L102.7 287.7 L106.2 285.2 L110.2 284.2 L112.7 282.1 L110.2 280.6 L109.9 280.4 M109.8 280.5 L110.2 280.6 L112.2 281.1 L115.2 280.6 L117.7 280.1 L120.2 281.6 L121.2 285.2 L120.7 289.2 L121.2 293.2 L122.2 295.2 L120.7 297.2 L117.7 299.2 L114.2 300.7 L111.2 302.7 L109.2 304.7 L111.2 307.2 L114.4 309.4 L114.0 310.6 M119.8 281.4 L120.2 281.6 L122.2 282.6 L124.7 283.6 L127.3 284.7 L128.8 287.2 L130.5 287.2 L131.0 288.1 M106.3 310.5 L106.7 310.3 L109.2 309.2 L109.4 311.1 M182.7 274.8 L182.8 275.2 L184.5 282.1 L185.5 287.2 L186.5 292.2 L187.5 297.2 L187.0 301.2 L189.5 302.7 L188.5 306.2 L187.0 309.2 L186.5 310.8 L187.0 310.0 M163.8 288.1 L164.2 288.0 L168.2 286.8 L172.2 285.3 L176.2 283.2 L180.3 281.2 L183.3 279.2 L183.6 279.0 M187.1 310.4 L186.5 310.2 L190.0 312.2 L195.1 315.2 L198.6 312.7 L201.6 313.7 L204.1 316.2 L203.6 319.7 L205.2 320.2 M185.3 283.3 L186.0 283.6 L189.0 281.1 L190.5 277.1 L194.1 277.6 L197.6 276.6 L197.1 274.0 L195.1 272.0 L196.6 268.5 L194.1 268.0 L191.0 267.5 L188.5 265.0 L188.0 262.0 L187.8 260.0 L188.8 260.1 M201.4 270.7 L201.6 271.0 L204.1 275.1 L207.1 278.6 L209.6 281.6 L211.1 283.6 L211.3 283.9 M202.0 270.9 L201.6 271.0 L197.6 272.0 L196.6 272.7 M210.8 283.3 L211.1 283.6 L214.1 286.1 L217.6 288.6 L220.2 289.6 L223.2 291.6 L226.7 294.1 L229.2 295.1 L231.2 296.6 L231.5 296.8 M252.0 262.3 L252.8 262.0 L253.8 266.0 L252.3 271.0 L251.8 276.1 L251.3 280.1 L254.3 283.1 L255.3 287.1 L255.8 290.1 L253.8 293.1 L250.3 294.1 L246.8 294.6 L245.3 298.1 L244.2 300.6 L241.7 299.6 L239.2 298.6 L236.7 296.6 L234.2 295.6 L231.2 296.6 L230.8 296.7 M217.5 288.2 L217.6 288.6 L218.1 292.1 L217.1 294.1 L213.1 294.6 L210.1 294.1 L208.1 292.1 L206.6 289.6 L204.6 290.1 L204.1 293.1 L205.6 296.1 L209.1 297.6 L213.1 299.1 L215.6 299.6 L214.1 301.7 L211.1 302.2 L208.1 302.2 L205.1 304.2 L202.1 308.2 L199.6 311.7 L198.6 312.7 L198.3 313.0 M231.6 296.4 L231.2 296.6 L230.2 297.1 L229.7 301.7 L227.2 303.2 L224.2 305.2 L224.7 307.7 L227.2 309.2 L228.7 311.2 L227.0 313.4 L226.9 313.8 M244.3 300.2 L244.2 300.6 L243.2 303.2 L244.7 306.2 L247.3 308.7 L250.3 311.2 L252.3 314.2 L254.3 317.2 L255.5 319.9 L255.4 320.5 M255.4 290.2 L255.8 290.1 L259.3 289.1 L263.3 289.1 L267.3 288.6 L270.8 287.6 L273.9 286.6 L276.9 288.1 L279.9 290.1 L282.4 293.1 L284.4 297.1 L286.4 301.2 L289.4 303.7 L292.4 305.7 L293.4 306.7 L293.7 307.0 M293.8 306.5 L293.4 306.7 L290.4 308.2 L286.4 307.7 L282.4 306.7 L278.9 305.2 L276.9 303.2 L275.4 300.6 L272.9 301.7 L271.4 304.2 L270.8 307.7 L269.8 309.2 L272.4 311.2 L272.9 314.2 L270.3 315.7 L267.3 317.7 L265.3 320.2 L263.3 322.9 L262.1 323.6 M293.5 306.3 L293.4 306.7 L292.9 310.2 L293.4 314.2 L293.9 318.2 L293.4 322.2 L290.4 325.2 L286.9 327.3 L285.4 330.3 L284.4 335.0 L284.4 336.3 L286.2 336.7 M295.0 262.6 L294.9 263.0 L293.9 266.0 L298.5 267.5 L302.5 271.0 L307.5 273.5 L311.5 276.1 L314.5 280.1 L318.5 281.1 L322.5 281.6 L326.6 279.1 L329.6 282.1 L333.6 284.6 L336.0 286.1 L336.3 286.3 M293.5 318.1 L293.9 318.2 L298.5 319.7 L303.5 321.7 L307.5 324.2 L309.5 327.3 L311.5 330.3 L316.5 331.3 L320.5 332.3 L324.6 332.8 L323.5 333.3 M230.4 189.1 L229.8 189.2 L231.1 193.0 L232.6 197.0 L234.6 199.5 L238.6 201.0 L239.0 201.1 M238.2 200.9 L238.6 201.0 L244.2 202.0 L249.2 203.1 L252.2 203.1 L256.2 206.6 L260.2 210.1 L265.3 214.1 L270.3 218.1 L275.3 222.1 L279.3 222.6 L283.3 221.1 L288.3 219.1 L292.4 218.1 L294.9 217.1 L295.1 213.3 L296.1 212.7 M221.9 222.9 L221.5 223.0 L218.1 223.6 L214.1 225.6 L211.5 228.6 L208.5 228.6 L206.4 228.1 L206.0 228.0 M243.3 253.9 L243.6 253.6 L247.2 250.2 L249.7 246.2 L252.2 243.2 L255.2 240.2 L258.2 236.7 L260.2 234.2 L262.7 233.2 L265.3 234.7 L268.3 233.7 L271.8 232.7 L275.3 231.7 L279.3 230.2 L284.3 229.7 L288.3 228.1 L291.4 226.6 L292.9 224.6 L292.4 222.1 L290.8 220.1 L292.4 218.1 L292.6 217.8 M271.7 232.3 L271.8 232.7 L272.3 236.2 L270.3 239.2 L268.8 241.7 L270.8 244.7 L274.3 245.7 L278.3 247.2 L281.8 249.2 L282.3 252.2 L285.3 253.7 L289.3 253.7 L292.4 256.3 L294.4 259.3 L294.9 263.0 L295.0 263.4 M340.1 203.2 L339.7 203.7 L340.5 207.1 L340.5 210.6 L341.5 214.1 L342.0 217.1 L339.5 220.1 L336.5 223.1 L335.5 225.6 L337.0 228.6 L340.5 230.2 L343.6 231.2 L344.1 235.2 L344.6 238.2 L342.0 241.2 L340.0 243.2 L340.5 247.2 L341.5 251.2 L342.0 255.3 L343.6 259.3 L345.1 263.0 L345.3 263.4 M205.1 142.4 L205.2 142.8 L207.1 147.5 L208.3 151.9 L210.8 153.8 L211.1 154.0 M162.7 287.9 L163.4 287.6 L163.7 289.8 L163.3 290.1 M336.6 299.3 L337.0 299.2 L341.6 297.7 L344.7 296.2 L343.9 297.0 L343.6 297.3 M145.2 173.3 L147.7 173.6 L152.2 175.6 L155.7 177.1 L157.2 181.1 L159.2 185.6 L160.2 190.7 L160.7 194.2 L160.2 197.7 L157.7 196.7 L154.7 194.7 L152.2 192.2 L150.2 189.7 L148.2 190.7 L144.2 190.2 L141.2 187.1 L138.1 184.6 L135.6 182.3 L139.2 178.6 L142.2 174.6Z M119.6 233.6 L122.6 231.1 L125.1 229.6 L127.1 228.6 L130.1 230.1 L133.1 230.6 L134.1 233.6 L135.1 236.1 L132.1 237.6 L129.6 239.6 L129.1 243.1 L127.6 244.1 L125.6 240.6 L123.6 237.6 L121.6 235.1Z M133.1 230.6 L135.1 228.1 L137.6 225.5 L139.2 225.0 L143.2 226.5 L147.2 227.0 L149.7 227.0 L150.7 231.1 L151.7 235.1 L152.7 238.6 L150.2 240.6 L147.2 242.1 L144.7 243.1 L142.7 241.6 L140.2 239.1 L137.6 237.6 L135.1 236.1 L134.1 233.6Z M135.1 236.1 L137.6 237.6 L140.2 239.1 L142.7 241.6 L144.7 243.1 L143.2 245.1 L142.2 249.1 L140.7 252.6 L136.1 253.6 L132.1 254.2 L130.6 250.6 L129.1 247.1 L127.6 244.1 L129.1 243.1 L129.6 239.6 L132.1 237.6Z M150.2 215.0 L148.7 219.0 L149.2 225.0 L149.7 227.0 L150.7 231.1 L151.7 235.1 L156.2 234.1 L160.2 233.6 L162.7 233.1 L161.2 229.1 L159.2 225.0 L157.2 221.5 L155.7 219.0 L154.7 217.5 L153.2 216.0 L152.2 214.0 L150.7 214.0Z M154.7 217.5 L157.7 219.0 L161.2 221.0 L165.3 223.5 L168.3 225.5 L169.8 227.5 L168.3 230.1 L165.3 231.1 L162.7 233.1 L161.2 229.1 L159.2 225.0 L157.2 221.5 L155.7 219.0Z M157.7 219.0 L161.2 218.5 L165.3 218.0 L170.3 217.0 L176.3 216.5 L180.3 216.0 L181.3 219.0 L183.3 222.0 L185.3 225.0 L188.3 228.1 L190.3 230.1 L193.4 230.1 L195.4 229.1 L194.9 231.1 L193.9 234.1 L192.4 236.6 L188.3 236.6 L184.3 236.6 L181.8 235.1 L180.3 232.6 L178.3 233.1 L174.8 232.6 L172.3 230.1 L169.8 227.5 L168.3 225.5 L165.3 223.5 L161.2 221.0Z M206.4 228.1 L204.4 231.1 L201.4 233.6 L200.4 236.6 L201.4 239.6 L200.4 242.1 L204.4 242.6 L208.4 243.1 L212.4 244.1 L214.9 243.1 L215.4 246.1 L216.9 248.1 L214.4 250.1 L212.4 253.1 L210.4 256.2 L209.4 258.7 L207.4 257.2 L205.4 255.2 L202.4 253.6 L199.4 256.2 L196.4 258.2 L193.4 260.2 L190.3 262.2 L189.3 264.2 L188.3 261.2 L188.8 257.2 L188.3 253.1 L186.3 250.1 L183.3 248.1 L180.3 245.1 L183.3 243.6 L187.3 242.1 L186.3 239.6 L184.3 236.6 L188.3 236.6 L192.4 236.6 L193.9 234.1 L194.9 231.1 L195.4 229.1 L197.4 227.5 L200.4 226.5 L204.4 224.5Z M189.3 264.2 L190.3 262.2 L193.4 260.2 L196.4 258.2 L199.4 256.2 L202.4 253.6 L205.4 255.2 L207.4 257.2 L209.4 258.7 L207.4 262.2 L205.4 265.7 L203.4 268.7 L200.9 270.7 L200.4 273.7 L196.4 273.2 L194.4 269.7 L191.4 267.2Z M216.4 239.6 L220.5 241.1 L223.5 245.1 L227.5 247.1 L233.5 248.1 L238.5 250.1 L243.6 253.6 L241.5 257.2 L239.5 260.2 L236.5 263.2 L232.5 265.2 L231.5 268.2 L232.5 271.2 L229.5 274.2 L224.5 276.2 L220.5 277.7 L216.4 279.2 L212.4 282.3 L210.9 283.3 L208.4 280.3 L205.4 277.2 L202.4 274.2 L200.4 273.7 L200.9 270.7 L203.4 268.7 L205.4 265.7 L207.4 262.2 L209.4 258.7 L210.4 256.2 L212.4 253.1 L214.4 250.1 L216.9 248.1 L215.4 246.1 L214.9 243.1Z M144.7 243.1 L147.2 242.1 L150.2 240.6 L152.7 238.6 L154.2 242.1 L156.2 245.1 L156.7 249.1 L159.2 251.1 L162.2 252.1 L164.2 254.7 L162.7 257.7 L159.2 258.2 L157.7 261.2 L156.7 264.2 L154.7 266.2 L151.2 264.7 L148.2 263.2 L145.7 260.2 L143.2 257.2 L140.7 252.6 L142.2 249.1 L143.2 245.1Z M152.7 238.6 L151.7 235.1 L156.2 234.1 L160.2 233.6 L162.7 233.1 L165.3 231.1 L168.3 230.1 L169.8 227.5 L172.3 230.1 L174.8 232.6 L178.3 233.1 L180.3 232.6 L181.8 235.1 L184.3 236.6 L186.3 239.6 L187.3 242.1 L183.3 243.6 L180.3 245.1 L178.3 243.6 L175.3 242.1 L172.3 243.6 L170.8 247.1 L168.3 248.6 L165.3 249.6 L162.2 250.1 L159.2 251.1 L156.7 249.1 L156.2 245.1 L154.2 242.1Z M168.3 248.6 L170.8 247.1 L172.3 248.1 L175.3 249.6 L177.3 251.6 L176.8 255.2 L174.3 255.7 L170.3 256.7 L166.8 257.2 L164.2 254.7 L162.2 252.1 L159.2 251.1 L162.2 250.1 L165.3 249.6Z M172.3 243.6 L175.3 242.1 L178.3 243.6 L180.3 245.1 L183.3 248.1 L186.3 250.1 L188.3 253.1 L188.8 257.2 L187.3 259.2 L184.3 257.2 L180.3 256.2 L176.8 255.2 L177.3 251.6 L175.3 249.6 L172.3 248.1 L170.8 247.1Z M170.3 256.7 L174.3 255.7 L176.8 255.2 L180.3 256.2 L184.3 257.2 L187.3 259.2 L188.8 257.2 L188.3 261.2 L189.3 264.2 L191.4 267.2 L194.4 269.7 L196.4 273.2 L197.4 275.2 L194.4 276.2 L190.3 277.2 L188.3 280.3 L186.3 281.8 L184.3 279.2 L182.8 275.2 L179.3 273.2 L176.3 272.2 L174.8 268.2 L174.3 264.7 L171.3 262.7 L170.3 260.2Z M164.2 254.7 L166.8 257.2 L170.3 256.7 L170.3 260.2 L171.3 262.7 L174.3 264.7 L174.8 268.2 L176.3 272.2 L174.3 273.7 L171.8 272.7 L169.3 270.7 L166.3 269.2 L163.2 268.2 L160.2 269.7 L158.2 271.2 L154.7 266.2 L156.7 264.2 L157.7 261.2 L159.2 258.2 L162.7 257.7Z M160.2 269.7 L163.2 268.2 L166.3 269.2 L169.3 270.7 L171.8 272.7 L174.3 273.7 L176.3 272.2 L179.3 273.2 L182.8 275.2 L183.3 279.2 L180.3 281.3 L176.3 283.3 L172.3 285.3 L168.3 286.8 L164.2 288.0 L163.2 288.0 L162.2 285.3 L161.2 280.3 L160.2 275.2 L159.2 272.7 L158.2 271.2Z M118.6 256.7 L120.1 255.2 L123.1 253.1 L126.1 253.6 L128.6 255.2 L130.6 256.7 L130.1 260.2 L133.1 263.2 L136.6 266.2 L138.1 269.7 L135.1 271.7 L138.1 274.2 L140.2 277.2 L141.2 281.3 L141.5 283.3 L139.7 282.3 L135.1 280.3 L130.1 279.2 L125.1 280.3 L122.1 281.3 L119.1 280.3 L116.1 279.7 L112.0 280.3 L110.0 281.3 L109.5 278.2 L108.5 275.2 L109.5 272.2 L108.0 269.7 L110.0 268.2 L114.1 269.7 L116.1 267.2 L115.1 264.2 L118.1 262.2 L119.1 259.2Z M350.1 347.0 L355.5 349.3 L360.1 351.6 L364.0 357.8 L364.7 362.4 L361.6 366.3 L357.8 372.4 L353.9 374.0 L347.8 377.0 L343.9 375.5 L344.7 372.4 L349.3 370.9 L352.4 365.5 L350.9 360.9 L351.6 356.2 L349.3 352.4Z M330.1 337.8 L338.5 336.2 L346.2 335.4 L351.6 334.7 L352.4 339.3 L353.9 343.1 L350.1 347.0 L349.3 352.4 L351.6 356.2 L350.9 360.9 L352.4 365.5 L349.3 368.6 L344.7 368.6 L340.8 367.0 L339.3 362.4 L337.8 357.8 L334.7 353.9 L331.6 351.6 L330.1 345.5Z M293.9 306.2 L298.5 303.9 L303.1 300.8 L307.0 293.1 L312.3 294.6 L318.5 296.9 L326.2 299.2 L329.3 300.8 L333.1 298.5 L337.0 299.2 L336.2 303.9 L337.8 306.9 L341.6 308.5 L347.0 309.3 L350.1 313.1 L353.9 316.2 L350.1 320.8 L351.6 324.7 L355.5 327.0 L352.4 330.8 L351.6 334.7 L346.2 335.4 L338.5 336.2 L330.1 337.8 L326.2 339.3 L324.7 336.2 L323.9 333.1 L317.0 330.8 L312.3 330.1 L308.5 326.2 L305.4 322.3 L299.3 320.0 L294.6 318.5 L293.1 313.1Z M294.6 318.5 L299.3 320.0 L305.4 322.3 L308.5 326.2 L312.3 330.1 L317.0 330.8 L323.9 333.1 L324.7 336.2 L326.2 339.3 L330.1 337.8 L330.1 345.5 L331.6 351.6 L326.2 351.6 L320.1 353.2 L316.2 355.5 L313.1 351.6 L310.0 347.8 L304.6 349.3 L298.5 350.1 L293.1 350.1 L290.8 347.0 L287.7 343.1 L284.6 342.1 L286.2 334.7 L285.4 330.1 L289.2 327.0 L293.1 323.1Z M293.1 350.1 L298.5 350.1 L304.6 349.3 L310.0 347.8 L313.1 351.6 L316.2 355.5 L320.1 353.2 L326.2 351.6 L331.6 351.6 L334.7 353.9 L337.8 357.8 L339.3 362.4 L337.8 366.3 L333.9 369.3 L327.8 373.2 L321.6 375.5 L317.0 376.3 L312.3 376.3 L307.0 375.5 L303.9 372.4 L299.3 374.7 L297.7 368.6 L296.2 362.4 L293.9 354.7Z M321.6 375.5 L327.8 373.2 L333.9 369.3 L337.8 366.3 L340.8 367.0 L344.7 368.6 L349.3 368.6 L349.3 370.9 L344.7 372.4 L343.9 375.5 L347.8 377.0 L350.1 382.4 L351.6 388.6 L347.8 391.7 L341.6 392.4 L337.0 394.0 L333.1 390.9 L329.3 388.6 L326.2 386.3 L322.4 382.4 L320.8 378.6Z" fill="none" stroke="#dcebe6" stroke-width="1.7" stroke-opacity="0.86"/>
<path d="M109.3 247.4 L106.2 239.0 L102.4 228.2 L106.2 222.0 L104.7 218.2 L110.8 215.9 L109.3 209.7 L103.9 204.3 L110.1 197.4 L113.1 201.2 L116.2 199.7 L117.8 191.2 L125.5 186.6 L127.8 182.0 L124.7 178.1 L125.5 173.5 L132.4 168.1 L137.0 164.3 L144.0 161.2 L150.9 162.7 L154.0 161.9 L156.3 166.6 L155.8 172.0 L158.0 171.2 L157.0 158.1 L166.3 161.2 L179.4 164.3 L182.5 160.4 L184.0 156.6 L187.9 155.8 L190.9 151.9 L197.1 148.9 L204.0 145.8 L205.2 142.8 L207.1 141.3 L213.3 141.9 L215.2 136.3 L220.8 133.2 L227.7 135.0 L232.7 139.4 L232.5 143.8 L229.6 145.0 L232.7 150.1 L233.3 160.1 L232.1 171.3 L227.7 177.0 L222.7 177.6 L217.1 173.8 L214.6 166.3 L213.3 157.6 L212.4 151.3 L210.8 153.8 L210.2 160.1 L205.8 163.8 L200.2 168.2 L198.3 171.3 L199.4 179.7 L202.5 179.7 L202.5 173.5 L205.6 172.7 L207.1 176.6 L208.7 182.7 L211.7 183.5 L214.8 180.4 L221.7 180.4 L227.1 182.7 L228.7 186.6 L234.1 185.8 L235.6 182.7 L240.2 178.9 L242.5 174.3 L246.4 180.4 L244.9 185.8 L238.7 185.4 L237.2 189.7 L240.2 192.0 L244.2 191.0 L250.2 191.5 L256.2 192.5 L261.2 194.5 L266.3 196.0 L269.3 197.5 L265.3 199.5 L264.2 201.5 L268.3 201.0 L272.3 202.5 L276.3 204.1 L279.8 204.6 L280.3 201.5 L281.8 202.5 L281.3 207.1 L278.3 208.6 L277.8 210.1 L282.3 208.6 L284.3 206.1 L283.8 200.0 L284.3 195.5 L286.3 195.0 L286.8 199.0 L287.8 201.5 L290.3 205.1 L293.4 209.1 L295.9 213.1 L298.4 217.1 L300.4 221.1 L301.4 224.6 L304.4 222.1 L303.4 219.1 L301.4 216.1 L303.4 211.6 L306.4 207.6 L305.4 205.1 L308.9 202.0 L312.4 200.0 L315.4 197.5 L318.5 194.5 L321.5 192.5 L325.5 193.0 L327.0 196.0 L326.0 199.0 L323.0 202.5 L320.8 206.1 L321.0 209.6 L319.0 214.1 L316.9 218.1 L315.4 222.1 L315.2 225.6 L316.4 228.6 L315.2 231.7 L312.4 234.4 L309.4 236.4 L306.4 238.4 L303.9 240.7 L301.9 240.2 L298.9 237.7 L296.6 235.2 L298.4 240.2 L301.4 243.2 L304.6 245.4 L307.4 243.7 L310.4 241.7 L314.4 239.2 L317.7 236.7 L320.3 232.2 L320.5 229.7 L323.7 230.0 L326.0 231.4 L327.1 234.7 L326.7 238.0 L325.0 239.2 L327.3 242.4 L329.7 243.0 L330.1 238.2 L329.7 233.0 L327.7 228.6 L324.5 226.3 L320.5 225.3 L319.7 223.1 L321.2 219.1 L323.2 215.1 L325.2 210.1 L325.7 206.6 L328.0 203.1 L330.5 200.0 L331.0 196.0 L331.7 195.0 L333.0 197.5 L332.5 201.0 L331.5 205.1 L330.5 210.1 L332.5 211.6 L335.0 213.1 L336.0 215.1 L335.5 211.6 L333.5 209.6 L333.0 206.1 L334.0 202.0 L335.0 199.5 L338.0 202.0 L340.0 203.6 L338.5 200.5 L340.5 199.5 L343.6 201.0 L345.1 204.1 L346.1 208.1 L348.6 211.1 L350.6 211.6 L349.6 209.1 L347.6 206.6 L346.6 203.1 L345.6 199.5 L347.6 197.0 L351.6 196.0 L356.0 196.5 L359.2 196.1 L362.8 195.6 L362.3 193.0 L359.2 192.0 L358.2 190.4 L361.3 187.9 L365.4 185.8 L369.5 184.2 L374.7 182.2 L378.8 180.6 L381.9 182.2 L383.9 180.1 L382.4 175.5 L383.9 170.8 L386.5 173.4 L387.0 177.5 L390.1 178.6 L392.2 176.5 L393.7 171.3 L396.3 166.2 L399.4 165.2 L402.5 166.7 L404.6 171.3 L406.6 172.9 L415.6 170.9 L419.4 175.5 L420.9 181.6 L418.6 187.8 L414.8 193.2 L410.9 198.6 L407.9 205.5 L409.4 206.3 L414.0 198.6 L417.9 194.0 L419.4 188.6 L422.5 187.0 L423.3 190.9 L420.2 194.7 L424.8 194.0 L428.7 190.9 L435.6 190.1 L439.4 191.7 L445.6 189.3 L447.1 183.2 L447.9 180.1 L454.1 180.9 L458.7 179.3 L461.8 181.6 L462.5 186.3 L465.6 185.5 L469.5 189.3 L475.6 192.4 L476.4 187.8 L474.9 184.0 L480.3 180.1 L486.4 177.0 L488.7 172.4 L484.9 167.8 L486.4 162.4 L492.6 158.5 L497.2 157.0 L498.7 160.1 L500.3 155.5 L503.4 151.6 L511.1 149.3 L518.0 146.2 L520.0 139.3 L520.8 137.1 L525.4 133.2 L530.8 132.4 L537.8 130.1 L539.3 125.5 L541.6 116.3 L540.8 111.6 L543.9 108.6 L547.8 110.9 L551.2 108.9 L550.1 106.3 L544.7 106.7 L541.6 105.2 L544.7 97.8 L547.0 89.3 L552.4 81.6 L560.1 72.4 L566.3 66.2 L570.9 62.7 L572.4 61.6 L571.7 53.1 L575.5 49.3 L579.4 45.1 L581.7 48.5 L584.7 50.0 L585.5 54.6 L590.1 53.9 L594.8 53.9 L595.2 58.5 L592.5 62.3 L590.1 67.0 L586.3 69.3 L584.7 73.9 L581.7 76.2 L577.0 76.2 L577.0 79.3 L581.7 79.0 L586.3 81.6 L589.4 85.5 L590.9 90.8 L588.6 94.7 L590.9 91.6 L594.0 88.5 L601.7 86.2 L606.3 84.7 L609.4 87.0 L608.6 91.6 L609.4 99.3 L610.9 105.5 L614.0 114.0 L617.9 120.9 L621.7 127.0 L618.6 128.6 L617.1 134.7 L616.3 142.0 L613.7 147.3 L613.2 152.7 L615.6 156.6 L618.6 159.6 L622.5 163.5 L626.3 165.0 L628.7 162.0 L631.7 165.0 L636.4 165.8 L641.0 168.1 L639.4 171.2 L643.3 175.1 L648.7 176.6 L649.4 181.2 L647.9 185.1 L651.0 188.9 L655.6 191.2 L654.8 198.2 L658.7 201.2 L661.8 205.9 L663.6 215.1 L661.0 214.3 L649.4 209.7 L637.1 205.9 L627.9 201.2 L621.7 195.8 L617.9 189.7 L615.6 188.1 L616.3 182.8 L614.0 176.6 L610.2 167.3 L607.1 159.6 L605.5 153.5 L603.2 149.6 L600.2 147.3 L597.1 143.5 L594.8 142.7 L594.0 145.8 L597.8 149.6 L598.6 153.5 L600.9 159.6 L601.7 165.0 L599.4 165.0 L597.1 162.7 L594.0 162.0 L591.7 165.8 L589.4 171.2 L590.9 177.4 L594.0 182.8 L594.8 188.9 L598.6 190.5 L601.7 188.9 L602.5 192.0 L598.6 198.2 L594.8 202.8 L590.9 204.3 L587.8 208.9 L585.5 213.6 L581.7 218.2 L578.6 223.6 L574.7 228.2 L570.9 233.6 L569.3 239.7 L570.1 247.0 L570.6 246.9 L570.9 255.4 L571.2 264.6 L570.9 272.3 L569.7 278.5 L568.6 283.1 L571.7 282.4 L574.0 277.7 L576.3 273.1 L578.6 274.7 L578.9 280.8 L580.9 283.9 L582.4 280.8 L582.9 276.2 L584.7 277.0 L586.3 281.6 L587.8 277.0 L587.8 273.1 L593.2 271.6 L599.4 271.6 L603.2 273.1 L606.3 277.7 L610.2 283.9 L614.0 289.3 L617.9 294.7 L620.9 300.8 L622.5 307.8 L624.0 315.0 L625.1 324.3 L625.6 333.5 L624.8 341.2 L625.6 348.9 L624.0 356.6 L620.9 362.0 L617.1 365.9 L612.5 367.4 L610.9 365.1 L610.2 370.5 L608.6 366.6 L607.1 372.0 L607.9 376.6 L605.5 375.1 L603.2 375.9 L605.5 372.8 L606.3 368.9 L603.2 365.1 L600.2 362.0 L597.8 360.5 L599.4 355.8 L601.7 353.5 L606.3 352.0 L605.5 345.8 L604.8 339.7 L602.5 333.5 L600.2 328.1 L598.6 325.0 L597.1 326.6 L593.2 332.7 L589.4 338.9 L584.7 342.0 L580.9 339.7 L577.8 337.4 L572.4 337.4 L566.3 338.9 L560.1 340.9 L553.9 335.8 L547.8 332.0 L540.8 326.6 L533.9 325.0 L524.7 326.6 L517.0 330.4 L513.1 335.1 L511.6 340.4 L514.7 339.7 L516.7 344.3 L515.4 350.5 L515.1 356.6 L516.2 361.2 L512.3 365.1 L508.5 368.9 L500.0 368.9 L493.9 371.3 L489.2 372.0 L484.6 376.6 L480.0 379.7 L472.6 383.2 L464.9 385.5 L458.7 384.7 L454.1 381.7 L447.9 382.4 L441.7 382.4 L435.6 384.0 L429.4 384.7 L424.8 383.2 L420.9 379.3 L415.6 376.3 L409.4 375.5 L403.2 374.0 L400.9 376.3 L398.6 380.9 L400.2 386.3 L398.6 390.1 L394.8 391.7 L387.8 390.9 L381.7 390.1 L378.6 388.6 L374.0 386.3 L367.8 384.7 L363.2 384.0 L357.0 386.3 L351.6 388.6 L347.8 391.7 L341.6 392.4 L337.0 394.0 L333.1 390.9 L329.3 388.6 L326.2 386.3 L322.4 382.4 L320.8 378.6 L317.0 376.3 L312.3 376.3 L307.0 375.5 L303.9 372.4 L299.3 374.7 L297.7 368.6 L296.2 362.4 L293.9 354.7 L290.8 347.0 L287.7 343.1 L284.6 342.1 L280.0 343.1 L277.2 343.2 L272.6 341.7 L268.0 337.0 L263.3 333.2 L264.1 326.3 L261.8 322.4 L255.6 320.1 L247.9 318.6 L240.2 317.0 L232.5 315.5 L226.4 313.2 L221.7 312.4 L217.1 310.1 L215.6 312.4 L217.1 317.0 L212.5 315.5 L207.9 316.3 L204.8 320.1 L204.8 324.0 L207.1 327.8 L204.0 330.1 L198.6 328.6 L194.0 325.5 L190.9 320.9 L187.9 317.0 L181.7 313.9 L177.1 312.4 L174.0 308.5 L171.7 303.2 L170.1 297.8 L166.3 293.1 L163.2 289.3 L158.6 288.5 L152.4 287.8 L147.8 289.3 L144.0 289.3 L142.4 284.7 L137.8 283.9 L133.9 286.2 L129.3 288.5 L127.8 293.9 L129.3 299.3 L128.5 304.7 L126.2 311.6 L121.6 312.4 L117.8 311.6 L113.9 310.1 L107.8 310.9 L105.4 313.2 L107.0 317.0 L103.1 317.0 L100.8 321.6 L98.5 327.8 L98.2 332.4 L93.1 331.7 L90.8 327.8 L90.0 321.6 L87.7 315.5 L85.4 310.1 L82.3 305.5 L80.8 300.1 L78.5 293.1 L75.4 287.0 L71.6 280.8 L71.1 273.1 L71.6 264.6 L70.8 254.6 L75.4 258.5 L80.8 259.3 L84.6 254.6 L86.2 260.0 L90.8 259.3 L90.0 255.4 L93.1 254.6 L97.0 258.5 L104.7 256.9 L108.5 254.6 L109.3 247.7Z" fill="none" stroke="#dcebe6" stroke-width="0.9" stroke-opacity="0.8"/>
</g>
<!-- sparklines -->
<g fill="none" stroke="#5c5c63" stroke-width="1.7">
<path d="M842.3,89.9 H894.9"/><path d="M1116.1,89.8 H1169"/><path d="M1391.9,89 H1444.9"/>
</g>
<g fill="none" stroke="#b6b6b6" stroke-width="1">
<path d="M842.3,89.8 L860.3,90.2 L877.2,80.9 L893.6,91.9"/>
<path d="M1116.1,89 L1134.7,92.8 L1151.3,81.2 L1169,90.1"/>
<path d="M1391.9,88.9 L1409.2,86.3 L1425.9,92.5 L1443.3,81.2"/>
</g>
<circle cx="893.9" cy="92.2" r="0.9" fill="#1c1c1c"/><circle cx="1425.9" cy="92.9" r="0.8" fill="#1c1c1c"/><circle cx="1151.3" cy="80.6" r="0.7" fill="#1c1c1c"/>
<!-- maximize icon -->
<rect x="1524.5" y="134.4" width="11" height="8.8" fill="#9a9a9a"/><rect x="1526" y="137.6" width="8" height="4.2" fill="#232323"/>
<!-- chart1 -->
<rect x="786.2" y="177.2" width="12.8" height="114.1" fill="#ff5a00"/>
<rect x="800.2" y="168.1" width="12.8" height="123.2" fill="#fca52b"/>
<rect x="826.7" y="188.4" width="12.8" height="102.9" fill="#ff5a00"/>
<rect x="840.7" y="160.9" width="12.8" height="130.4" fill="#fca52b"/>
<rect x="867.1" y="182.8" width="12.8" height="108.5" fill="#ff5a00"/>
<rect x="881.1" y="173.7" width="12.8" height="117.7" fill="#fca52b"/>
<rect x="907.5" y="177.6" width="12.8" height="113.7" fill="#ff5a00"/>
<rect x="921.5" y="186.0" width="12.8" height="105.3" fill="#fca52b"/>
<rect x="947.9" y="202.8" width="12.8" height="88.5" fill="#ff5a00"/>
<rect x="961.9" y="171.3" width="12.8" height="120.0" fill="#fca52b"/>
<rect x="988.4" y="195.2" width="12.8" height="96.1" fill="#ff5a00"/>
<rect x="1002.4" y="178.8" width="12.8" height="112.5" fill="#fca52b"/>
<rect x="1028.8" y="183.6" width="12.8" height="107.7" fill="#ff5a00"/>
<rect x="1042.8" y="192.0" width="12.8" height="99.3" fill="#fca52b"/>
<rect x="1069.2" y="191.2" width="12.8" height="100.1" fill="#ff5a00"/>
<rect x="1083.2" y="187.2" width="12.8" height="104.1" fill="#fca52b"/>
<rect x="1109.6" y="200.8" width="12.8" height="90.5" fill="#ff5a00"/>
<rect x="1123.6" y="182.0" width="12.8" height="109.3" fill="#fca52b"/>
<rect x="1150.0" y="178.8" width="12.8" height="112.5" fill="#ff5a00"/>
<rect x="1164.0" y="204.8" width="12.8" height="86.5" fill="#fca52b"/>
<rect x="1190.5" y="209.6" width="12.8" height="81.8" fill="#ff5a00"/>
<rect x="1204.4" y="183.2" width="12.8" height="108.1" fill="#fca52b"/>
<rect x="1230.9" y="202.0" width="12.8" height="89.3" fill="#ff5a00"/>
<rect x="1244.9" y="192.0" width="12.8" height="99.3" fill="#fca52b"/>
<rect x="1271.3" y="213.1" width="12.8" height="78.2" fill="#ff5a00"/>
<rect x="1285.3" y="181.2" width="12.8" height="110.1" fill="#fca52b"/>
<rect x="1311.7" y="194.4" width="12.8" height="96.9" fill="#ff5a00"/>
<rect x="1325.7" y="202.0" width="12.8" height="89.3" fill="#fca52b"/>
<rect x="1352.1" y="188.8" width="12.8" height="102.5" fill="#ff5a00"/>
<rect x="1366.1" y="208.4" width="12.8" height="83.0" fill="#fca52b"/>
<rect x="1392.6" y="201.2" width="12.8" height="90.1" fill="#ff5a00"/>
<rect x="1406.5" y="198.0" width="12.8" height="93.3" fill="#fca52b"/>
<rect x="1433.0" y="204.0" width="12.8" height="87.3" fill="#ff5a00"/>
<rect x="1447.0" y="195.6" width="12.8" height="95.7" fill="#fca52b"/>
<rect x="1473.4" y="211.9" width="12.8" height="79.4" fill="#ff5a00"/>
<rect x="1487.4" y="188.0" width="12.8" height="103.3" fill="#fca52b"/>
<path d="M799.8,196.4 C805.7,208.9 828.3,277.2 840.1,281.3 C851.9,285.5 868.6,226.3 880.4,224.7 C892.2,223.1 908.8,273.1 920.7,270.2 C932.5,267.3 949.5,212.7 961.4,204.8 C973.2,196.9 989.8,209.0 1001.6,216.3 C1013.5,223.7 1030.1,253.9 1041.9,255.0 C1053.7,256.1 1070.3,228.1 1082.2,223.9 C1094.1,219.7 1111.0,227.8 1122.9,226.3 C1134.8,224.8 1151.3,211.4 1163.2,213.5 C1175.0,215.6 1192.0,240.3 1203.8,240.7 C1215.7,241.0 1232.2,211.4 1244.1,215.9 C1256.0,220.4 1272.9,269.5 1284.8,271.4 C1296.7,273.2 1313.3,230.0 1325.1,228.7 C1336.9,227.4 1353.5,261.7 1365.4,262.2 C1377.2,262.7 1394.2,233.8 1406.1,231.9 C1417.9,230.0 1434.5,247.4 1446.3,249.4 C1458.2,251.4 1481.0,246.0 1487.0,245.4" fill="none" stroke="#a9e8d8" stroke-width="2"/>
<circle cx="799.8" cy="196.4" r="3.3" fill="#a9e8d8"/>
<circle cx="840.1" cy="281.3" r="3.3" fill="#a9e8d8"/>
<circle cx="880.4" cy="224.7" r="3.3" fill="#a9e8d8"/>
<circle cx="920.7" cy="270.2" r="3.3" fill="#a9e8d8"/>
<circle cx="961.4" cy="204.8" r="3.3" fill="#a9e8d8"/>
<circle cx="1001.6" cy="216.3" r="3.3" fill="#a9e8d8"/>
<circle cx="1041.9" cy="255.0" r="3.3" fill="#a9e8d8"/>
<circle cx="1082.2" cy="223.9" r="3.3" fill="#a9e8d8"/>
<circle cx="1122.9" cy="226.3" r="3.3" fill="#a9e8d8"/>
<circle cx="1163.2" cy="213.5" r="3.3" fill="#a9e8d8"/>
<circle cx="1203.8" cy="240.7" r="3.3" fill="#a9e8d8"/>
<circle cx="1244.1" cy="215.9" r="3.3" fill="#a9e8d8"/>
<circle cx="1284.8" cy="271.4" r="3.3" fill="#a9e8d8"/>
<circle cx="1325.1" cy="228.7" r="3.3" fill="#a9e8d8"/>
<circle cx="1365.4" cy="262.2" r="3.3" fill="#a9e8d8"/>
<circle cx="1406.1" cy="231.9" r="3.3" fill="#a9e8d8"/>
<circle cx="1446.3" cy="249.4" r="3.3" fill="#a9e8d8"/>
<circle cx="1487.0" cy="245.4" r="3.3" fill="#a9e8d8"/>
<text class="xl" transform="translate(796.4,299.6) rotate(-90) scale(0.930,1)" text-anchor="end">Республика</text>
<text class="xl" transform="translate(810.1,299.6) rotate(-90) scale(0.930,1)" text-anchor="end">Саха (Якутия)</text>
<text class="xl" transform="translate(836.8,299.6) rotate(-90) scale(0.930,1)" text-anchor="end">Республика</text>
<text class="xl" transform="translate(850.6,299.6) rotate(-90) scale(0.930,1)" text-anchor="end">Мордовия</text>
<text class="xl" transform="translate(877.2,299.6) rotate(-90) scale(0.930,1)" text-anchor="end">Ивановская</text>
<text class="xl" transform="translate(891.0,299.6) rotate(-90) scale(0.930,1)" text-anchor="end">область</text>
<text class="xl" transform="translate(917.6,299.6) rotate(-90) scale(0.930,1)" text-anchor="end">Оренбургска</text>
<text class="xl" transform="translate(931.4,299.6) rotate(-90) scale(0.930,1)" text-anchor="end">я область</text>
<text class="xl" transform="translate(958.0,299.6) rotate(-90) scale(0.930,1)" text-anchor="end">Московская</text>
<text class="xl" transform="translate(971.8,299.6) rotate(-90) scale(0.930,1)" text-anchor="end">область</text>
<text class="xl" transform="translate(998.5,299.6) rotate(-90) scale(0.930,1)" text-anchor="end">Астраханска</text>
<text class="xl" transform="translate(1012.2,299.6) rotate(-90) scale(0.930,1)" text-anchor="end">я область</text>
<text class="xl" transform="translate(1038.9,299.6) rotate(-90) scale(0.930,1)" text-anchor="end">Санкт-</text>
<text class="xl" transform="translate(1052.7,299.6) rotate(-90) scale(0.930,1)" text-anchor="end">Петербург</text>
<text class="xl" transform="translate(1079.3,299.6) rotate(-90) scale(0.930,1)" text-anchor="end">Республика</text>
<text class="xl" transform="translate(1093.1,299.6) rotate(-90) scale(0.930,1)" text-anchor="end">Карелия</text>
<text class="xl" transform="translate(1119.7,299.6) rotate(-90) scale(0.930,1)" text-anchor="end">Рязанская</text>
<text class="xl" transform="translate(1133.5,299.6) rotate(-90) scale(0.930,1)" text-anchor="end">область</text>
<text class="xl" transform="translate(1160.1,299.6) rotate(-90) scale(0.930,1)" text-anchor="end">Самарская</text>
<text class="xl" transform="translate(1173.9,299.6) rotate(-90) scale(0.930,1)" text-anchor="end">область</text>
<text class="xl" transform="translate(1200.5,299.6) rotate(-90) scale(0.930,1)" text-anchor="end">Смоленская</text>
<text class="xl" transform="translate(1214.3,299.6) rotate(-90) scale(0.930,1)" text-anchor="end">область</text>
<text class="xl" transform="translate(1241.0,299.6) rotate(-90) scale(0.930,1)" text-anchor="end">Республика</text>
<text class="xl" transform="translate(1254.8,299.6) rotate(-90) scale(0.930,1)" text-anchor="end">Коми</text>
<text class="xl" transform="translate(1281.4,299.6) rotate(-90) scale(0.930,1)" text-anchor="end">Республика</text>
<text class="xl" transform="translate(1295.2,299.6) rotate(-90) scale(0.930,1)" text-anchor="end">Алтай</text>
<text class="xl" transform="translate(1321.8,299.6) rotate(-90) scale(0.930,1)" text-anchor="end">Ярославская</text>
<text class="xl" transform="translate(1335.6,299.6) rotate(-90) scale(0.930,1)" text-anchor="end">область</text>
<text class="xl" transform="translate(1362.2,299.6) rotate(-90) scale(0.930,1)" text-anchor="end">Владимирска</text>
<text class="xl" transform="translate(1376.0,299.6) rotate(-90) scale(0.930,1)" text-anchor="end">я область</text>
<text class="xl" transform="translate(1402.7,299.6) rotate(-90) scale(0.930,1)" text-anchor="end">Магаданская</text>
<text class="xl" transform="translate(1416.5,299.6) rotate(-90) scale(0.930,1)" text-anchor="end">область</text>
<text class="xl" transform="translate(1443.1,299.6) rotate(-90) scale(0.930,1)" text-anchor="end">Ненецкий</text>
<text class="xl" transform="translate(1456.9,299.6) rotate(-90) scale(0.930,1)" text-anchor="end">автономны…</text>
<text class="xl" transform="translate(1483.5,299.6) rotate(-90) scale(0.930,1)" text-anchor="end">Курганская</text>
<text class="xl" transform="translate(1497.3,299.6) rotate(-90) scale(0.930,1)" text-anchor="end">область</text>
<text class="yt" transform="translate(772.0,223.4) rotate(-90)" text-anchor="middle" textLength="82.8" lengthAdjust="spacing">Тьюторы (план/факт)</text>
<text class="yt" transform="translate(1517.2,223.9) rotate(-90)" text-anchor="middle" textLength="56.0" lengthAdjust="spacing">Успеваемость</text>
<rect x="779" y="372.1" width="728" height="8.5" fill="#f7f7f7"/>
<rect x="789" y="372.1" width="150" height="8.5" fill="#a7a7ac"/>
<rect x="788" y="372.1" width="1.1" height="8.5" fill="#4a4a4a"/>
<path d="M780.5,376.3 h6 M783.5,373.3 v6" stroke="#222" stroke-width="1" fill="none"/>
<rect x="1497.5" y="372.1" width="1.3" height="8.5" fill="#6a6a6a"/>
<rect x="1499" y="375.7" width="8" height="1.2" fill="#333"/>
<rect x="1014.9" y="382.8" width="9.3" height="9.6" rx="1" fill="#ff5a00"/>
<text class="lg" transform="translate(1027.9,391.4) scale(0.930,1)">Тьюторы(план) (Сумма)</text>
<rect x="1147.3" y="382.8" width="9.3" height="9.6" rx="1" fill="#fca52b"/>
<text class="lg" transform="translate(1160.8,391.4) scale(0.930,1)">Тьюторы(факт) (Сумма)</text>
<!-- chart2 -->
<rect x="786.2" y="484.1" width="12.8" height="117.3" fill="#1ea3da"/>
<rect x="800.2" y="475.2" width="12.8" height="126.2" fill="#3fe5c3"/>
<rect x="826.7" y="500.4" width="12.8" height="101.1" fill="#1ea3da"/>
<rect x="840.7" y="464.7" width="12.8" height="136.8" fill="#3fe5c3"/>
<rect x="867.1" y="512.1" width="12.8" height="89.3" fill="#1ea3da"/>
<rect x="881.1" y="460.2" width="12.8" height="141.3" fill="#3fe5c3"/>
<rect x="907.5" y="487.4" width="12.8" height="114.1" fill="#1ea3da"/>
<rect x="921.5" y="485.8" width="12.8" height="115.7" fill="#3fe5c3"/>
<rect x="947.9" y="506.9" width="12.8" height="94.6" fill="#1ea3da"/>
<rect x="961.9" y="469.5" width="12.8" height="131.9" fill="#3fe5c3"/>
<rect x="988.4" y="504.4" width="12.8" height="97.0" fill="#1ea3da"/>
<rect x="1002.4" y="474.8" width="12.8" height="126.7" fill="#3fe5c3"/>
<rect x="1028.8" y="506.9" width="12.8" height="94.6" fill="#1ea3da"/>
<rect x="1042.8" y="473.2" width="12.8" height="128.3" fill="#3fe5c3"/>
<rect x="1069.2" y="499.2" width="12.8" height="102.3" fill="#1ea3da"/>
<rect x="1083.2" y="493.1" width="12.8" height="108.4" fill="#3fe5c3"/>
<rect x="1109.6" y="508.1" width="12.8" height="93.4" fill="#1ea3da"/>
<rect x="1123.6" y="484.1" width="12.8" height="117.3" fill="#3fe5c3"/>
<rect x="1150.0" y="503.6" width="12.8" height="97.8" fill="#1ea3da"/>
<rect x="1164.0" y="492.3" width="12.8" height="109.2" fill="#3fe5c3"/>
<rect x="1190.5" y="502.8" width="12.8" height="98.6" fill="#1ea3da"/>
<rect x="1204.4" y="495.5" width="12.8" height="106.0" fill="#3fe5c3"/>
<rect x="1230.9" y="506.5" width="12.8" height="95.0" fill="#1ea3da"/>
<rect x="1244.9" y="494.7" width="12.8" height="106.8" fill="#3fe5c3"/>
<rect x="1271.3" y="498.8" width="12.8" height="102.7" fill="#1ea3da"/>
<rect x="1285.3" y="503.2" width="12.8" height="98.2" fill="#3fe5c3"/>
<rect x="1311.7" y="514.2" width="12.8" height="87.3" fill="#1ea3da"/>
<rect x="1325.7" y="488.6" width="12.8" height="112.9" fill="#3fe5c3"/>
<rect x="1352.1" y="520.3" width="12.8" height="81.2" fill="#1ea3da"/>
<rect x="1366.1" y="482.9" width="12.8" height="118.5" fill="#3fe5c3"/>
<rect x="1392.6" y="515.8" width="12.8" height="85.7" fill="#1ea3da"/>
<rect x="1406.5" y="493.1" width="12.8" height="108.4" fill="#3fe5c3"/>
<rect x="1433.0" y="510.1" width="12.8" height="91.3" fill="#1ea3da"/>
<rect x="1447.0" y="500.4" width="12.8" height="101.1" fill="#3fe5c3"/>
<rect x="1473.4" y="528.8" width="12.8" height="72.7" fill="#1ea3da"/>
<rect x="1487.4" y="482.1" width="12.8" height="119.3" fill="#3fe5c3"/>
<path d="M799.7,530.0 C805.6,534.8 828.0,564.1 839.9,562.9 C851.7,561.6 868.5,526.7 880.5,521.5 C892.4,516.3 909.2,521.3 921.0,527.6 C932.9,533.8 949.4,564.6 961.2,564.1 C973.1,563.6 990.0,529.3 1001.8,524.3 C1013.7,519.4 1030.2,531.0 1042.0,530.4 C1053.9,529.8 1070.8,513.4 1082.6,520.3 C1094.5,527.1 1111.0,573.2 1122.8,577.1 C1134.7,581.0 1151.5,555.8 1163.4,547.1 C1175.2,538.3 1191.7,518.4 1203.6,517.4 C1215.4,516.4 1232.3,534.1 1244.2,540.2 C1256.1,546.2 1272.9,557.9 1284.8,558.4 C1296.6,558.9 1313.1,553.6 1325.0,543.4 C1336.8,533.2 1353.7,482.0 1365.6,489.0 C1377.4,496.0 1393.9,588.4 1405.7,591.3 C1417.6,594.2 1434.4,519.4 1446.3,508.9 C1458.2,498.4 1481.0,517.9 1486.9,519.5" fill="none" stroke="#f3a224" stroke-width="2"/>
<circle cx="799.7" cy="530.0" r="3.3" fill="#f3a224"/>
<circle cx="839.9" cy="562.9" r="3.3" fill="#f3a224"/>
<circle cx="880.5" cy="521.5" r="3.3" fill="#f3a224"/>
<circle cx="921.0" cy="527.6" r="3.3" fill="#f3a224"/>
<circle cx="961.2" cy="564.1" r="3.3" fill="#f3a224"/>
<circle cx="1001.8" cy="524.3" r="3.3" fill="#f3a224"/>
<circle cx="1042.0" cy="530.4" r="3.3" fill="#f3a224"/>
<circle cx="1082.6" cy="520.3" r="3.3" fill="#f3a224"/>
<circle cx="1122.8" cy="577.1" r="3.3" fill="#f3a224"/>
<circle cx="1163.4" cy="547.1" r="3.3" fill="#f3a224"/>
<circle cx="1203.6" cy="517.4" r="3.3" fill="#f3a224"/>
<circle cx="1244.2" cy="540.2" r="3.3" fill="#f3a224"/>
<circle cx="1284.8" cy="558.4" r="3.3" fill="#f3a224"/>
<circle cx="1325.0" cy="543.4" r="3.3" fill="#f3a224"/>
<circle cx="1365.6" cy="489.0" r="3.3" fill="#f3a224"/>
<circle cx="1405.7" cy="591.3" r="3.3" fill="#f3a224"/>
<circle cx="1446.3" cy="508.9" r="3.3" fill="#f3a224"/>
<circle cx="1486.9" cy="519.5" r="3.3" fill="#f3a224"/>
<text class="xl" transform="translate(796.4,609.5) rotate(-90) scale(0.930,1)" text-anchor="end">Ивановская</text>
<text class="xl" transform="translate(810.1,609.5) rotate(-90) scale(0.930,1)" text-anchor="end">область</text>
<text class="xl" transform="translate(836.8,609.5) rotate(-90) scale(0.930,1)" text-anchor="end">Санкт-</text>
<text class="xl" transform="translate(850.6,609.5) rotate(-90) scale(0.930,1)" text-anchor="end">Петербург</text>
<text class="xl" transform="translate(877.2,609.5) rotate(-90) scale(0.930,1)" text-anchor="end">Брянская</text>
<text class="xl" transform="translate(891.0,609.5) rotate(-90) scale(0.930,1)" text-anchor="end">область</text>
<text class="xl" transform="translate(917.6,609.5) rotate(-90) scale(0.930,1)" text-anchor="end">Вологодск</text>
<text class="xl" transform="translate(931.4,609.5) rotate(-90) scale(0.930,1)" text-anchor="end">ая область</text>
<text class="xl" transform="translate(958.0,609.5) rotate(-90) scale(0.930,1)" text-anchor="end">Кировская</text>
<text class="xl" transform="translate(971.8,609.5) rotate(-90) scale(0.930,1)" text-anchor="end">область</text>
<text class="xl" transform="translate(998.5,609.5) rotate(-90) scale(0.930,1)" text-anchor="end">Еврейская</text>
<text class="xl" transform="translate(1012.2,609.5) rotate(-90) scale(0.930,1)" text-anchor="end">автоном…</text>
<text class="xl" transform="translate(1038.9,609.5) rotate(-90) scale(0.930,1)" text-anchor="end">Челябинск</text>
<text class="xl" transform="translate(1052.7,609.5) rotate(-90) scale(0.930,1)" text-anchor="end">ая область</text>
<text class="xl" transform="translate(1079.3,609.5) rotate(-90) scale(0.930,1)" text-anchor="end">Астраханс</text>
<text class="xl" transform="translate(1093.1,609.5) rotate(-90) scale(0.930,1)" text-anchor="end">кая…</text>
<text class="xl" transform="translate(1119.7,609.5) rotate(-90) scale(0.930,1)" text-anchor="end">Волгоград</text>
<text class="xl" transform="translate(1133.5,609.5) rotate(-90) scale(0.930,1)" text-anchor="end">ская…</text>
<text class="xl" transform="translate(1160.1,609.5) rotate(-90) scale(0.930,1)" text-anchor="end">Смоленска</text>
<text class="xl" transform="translate(1173.9,609.5) rotate(-90) scale(0.930,1)" text-anchor="end">я область</text>
<text class="xl" transform="translate(1200.5,609.5) rotate(-90) scale(0.930,1)" text-anchor="end">Самарская</text>
<text class="xl" transform="translate(1214.3,609.5) rotate(-90) scale(0.930,1)" text-anchor="end">область</text>
<text class="xl" transform="translate(1241.0,609.5) rotate(-90) scale(0.930,1)" text-anchor="end">Тверская</text>
<text class="xl" transform="translate(1254.8,609.5) rotate(-90) scale(0.930,1)" text-anchor="end">область</text>
<text class="xl" transform="translate(1281.4,609.5) rotate(-90) scale(0.930,1)" text-anchor="end">Хабаровск</text>
<text class="xl" transform="translate(1295.2,609.5) rotate(-90) scale(0.930,1)" text-anchor="end">ий край</text>
<text class="xl" transform="translate(1321.8,609.5) rotate(-90) scale(0.930,1)" text-anchor="end">Воронежск</text>
<text class="xl" transform="translate(1335.6,609.5) rotate(-90) scale(0.930,1)" text-anchor="end">ая область</text>
<text class="xl" transform="translate(1362.2,609.5) rotate(-90) scale(0.930,1)" text-anchor="end">Ханты-</text>
<text class="xl" transform="translate(1376.0,609.5) rotate(-90) scale(0.930,1)" text-anchor="end">Мансийс…</text>
<text class="xl" transform="translate(1402.7,609.5) rotate(-90) scale(0.930,1)" text-anchor="end">Республик</text>
<text class="xl" transform="translate(1416.5,609.5) rotate(-90) scale(0.930,1)" text-anchor="end">а…</text>
<text class="xl" transform="translate(1443.1,609.5) rotate(-90) scale(0.930,1)" text-anchor="end">Сахалинск</text>
<text class="xl" transform="translate(1456.9,609.5) rotate(-90) scale(0.930,1)" text-anchor="end">ая область</text>
<text class="xl" transform="translate(1483.5,609.5) rotate(-90) scale(0.930,1)" text-anchor="end">Свердловс</text>
<text class="xl" transform="translate(1497.3,609.5) rotate(-90) scale(0.930,1)" text-anchor="end">кая…</text>
<text class="yt" transform="translate(772.0,527.3) rotate(-90)" text-anchor="middle" textLength="89.1" lengthAdjust="spacing">Психологи (план/факт)</text>
<text class="yt" transform="translate(1517.2,528.6) rotate(-90)" text-anchor="middle" textLength="55.0" lengthAdjust="spacing">Успеваемость</text>
<rect x="779" y="670.3" width="728" height="8.5" fill="#f7f7f7"/>
<rect x="789" y="670.3" width="150" height="8.5" fill="#a7a7ac"/>
<rect x="788" y="670.3" width="1.1" height="8.5" fill="#4a4a4a"/>
<path d="M780.5,674.5 h6 M783.5,671.5 v6" stroke="#222" stroke-width="1" fill="none"/>
<rect x="1497.5" y="670.3" width="1.3" height="8.5" fill="#6a6a6a"/>
<rect x="1499" y="673.9" width="8" height="1.2" fill="#333"/>
<rect x="1007.5" y="681.5" width="9.3" height="9.6" rx="1" fill="#1ea3da"/>
<text class="lg" transform="translate(1020.5,690.1) scale(0.930,1)">Психологи(план) (Сумма)</text>
<rect x="1147.3" y="681.5" width="9.3" height="9.6" rx="1" fill="#3fe5c3"/>
<text class="lg" transform="translate(1160.8,690.1) scale(0.930,1)">Психологи(факт) (Сумма)</text>
</svg>
<div class="td" style="left:29.5px;top:474.9px">Республика Коми</div>
<div class="td r" style="left:181.5px;top:474.9px">90.19</div>
<div class="td r" style="left:264.5px;top:474.9px">108.75</div>
<div class="td r" style="left:371.2px;top:474.9px">9.96</div>
<div class="td r" style="left:474.7px;top:474.9px">11.56</div>
<div class="td r" style="left:572.4px;top:474.9px">3.60</div>
<div class="td r" style="left:617.5px;top:474.9px">2,016</div>
<div class="td" style="left:29.5px;top:510.6px">Ненецкий автономный округ</div>
<div class="td r" style="left:181.5px;top:510.6px">93.70</div>
<div class="td r" style="left:264.5px;top:510.6px">94.46</div>
<div class="td r" style="left:371.2px;top:510.6px">9.26</div>
<div class="td r" style="left:474.7px;top:510.6px">10.40</div>
<div class="td r" style="left:572.4px;top:510.6px">4.64</div>
<div class="td r" style="left:617.5px;top:510.6px">2,016</div>
<div class="td" style="left:29.5px;top:546.3px">Архангельская область</div>
<div class="td r" style="left:181.5px;top:546.3px">108.95</div>
<div class="td r" style="left:264.5px;top:546.3px">107.33</div>
<div class="td r" style="left:371.2px;top:546.3px">5.42</div>
<div class="td r" style="left:474.7px;top:546.3px">5.18</div>
<div class="td r" style="left:572.4px;top:546.3px">4.15</div>
<div class="td r" style="left:617.5px;top:546.3px">2,016</div>
<div class="td" style="left:29.5px;top:582.0px">Вологодская область</div>
<div class="td r" style="left:181.5px;top:582.0px">108.89</div>
<div class="td r" style="left:264.5px;top:582.0px">126.98</div>
<div class="td r" style="left:371.2px;top:582.0px">9.55</div>
<div class="td r" style="left:474.7px;top:582.0px">10.26</div>
<div class="td r" style="left:572.4px;top:582.0px">4.48</div>
<div class="td r" style="left:617.5px;top:582.0px">2,016</div>
<div class="td" style="left:29.5px;top:617.7px">Калининградская область</div>
<div class="td r" style="left:181.5px;top:617.7px">97.04</div>
<div class="td r" style="left:264.5px;top:617.7px">98.73</div>
<div class="td r" style="left:371.2px;top:617.7px">6.48</div>
<div class="td r" style="left:474.7px;top:617.7px">5.76</div>
<div class="td r" style="left:572.4px;top:617.7px">4.39</div>
<div class="td r" style="left:617.5px;top:617.7px">2,016</div>
<div class="td" style="left:29.5px;top:653.4px">Ленинградская область</div>
<div class="td r" style="left:181.5px;top:653.4px">107.50</div>
<div class="td r" style="left:264.5px;top:653.4px">114.48</div>
<div class="td r" style="left:371.2px;top:653.4px">7.08</div>
<div class="td r" style="left:474.7px;top:653.4px">7.22</div>
<div class="td r" style="left:572.4px;top:653.4px">4.41</div>
<div class="td r" style="left:617.5px;top:653.4px">2,016</div>
<div class="td" style="left:29.5px;top:689.1px">Мурманская область</div>
<div class="td r" style="left:181.5px;top:689.1px">98.80</div>
<div class="td r" style="left:264.5px;top:689.1px">105.29</div>
<div class="td r" style="left:371.2px;top:689.1px">8.89</div>
<div class="td r" style="left:474.7px;top:689.1px">8.56</div>
<div class="td r" style="left:572.4px;top:689.1px">4.77</div>
<div class="td r" style="left:617.5px;top:689.1px">2,016</div>
<div class="th" style="left:54.9px;top:439.4px">Регион</div>
<div class="th" style="left:187.6px;top:432.2px">Психологи</div>
<div class="th" style="left:187.6px;top:446.5px">(план)</div>
<div class="th" style="left:270.3px;top:432.2px">Психологи</div>
<div class="th" style="left:270.3px;top:446.5px">(факт)</div>
<div class="th" style="left:363.7px;top:439.4px">Тьюторы(план)</div>
<div class="th" style="left:470.0px;top:439.4px">Тьюторы(факт)</div>
<div class="th" style="left:570.6px;top:439.4px">Успеваемость</div>
<div class="th" style="left:642.2px;top:439.4px">Год</div>
</body></html>
